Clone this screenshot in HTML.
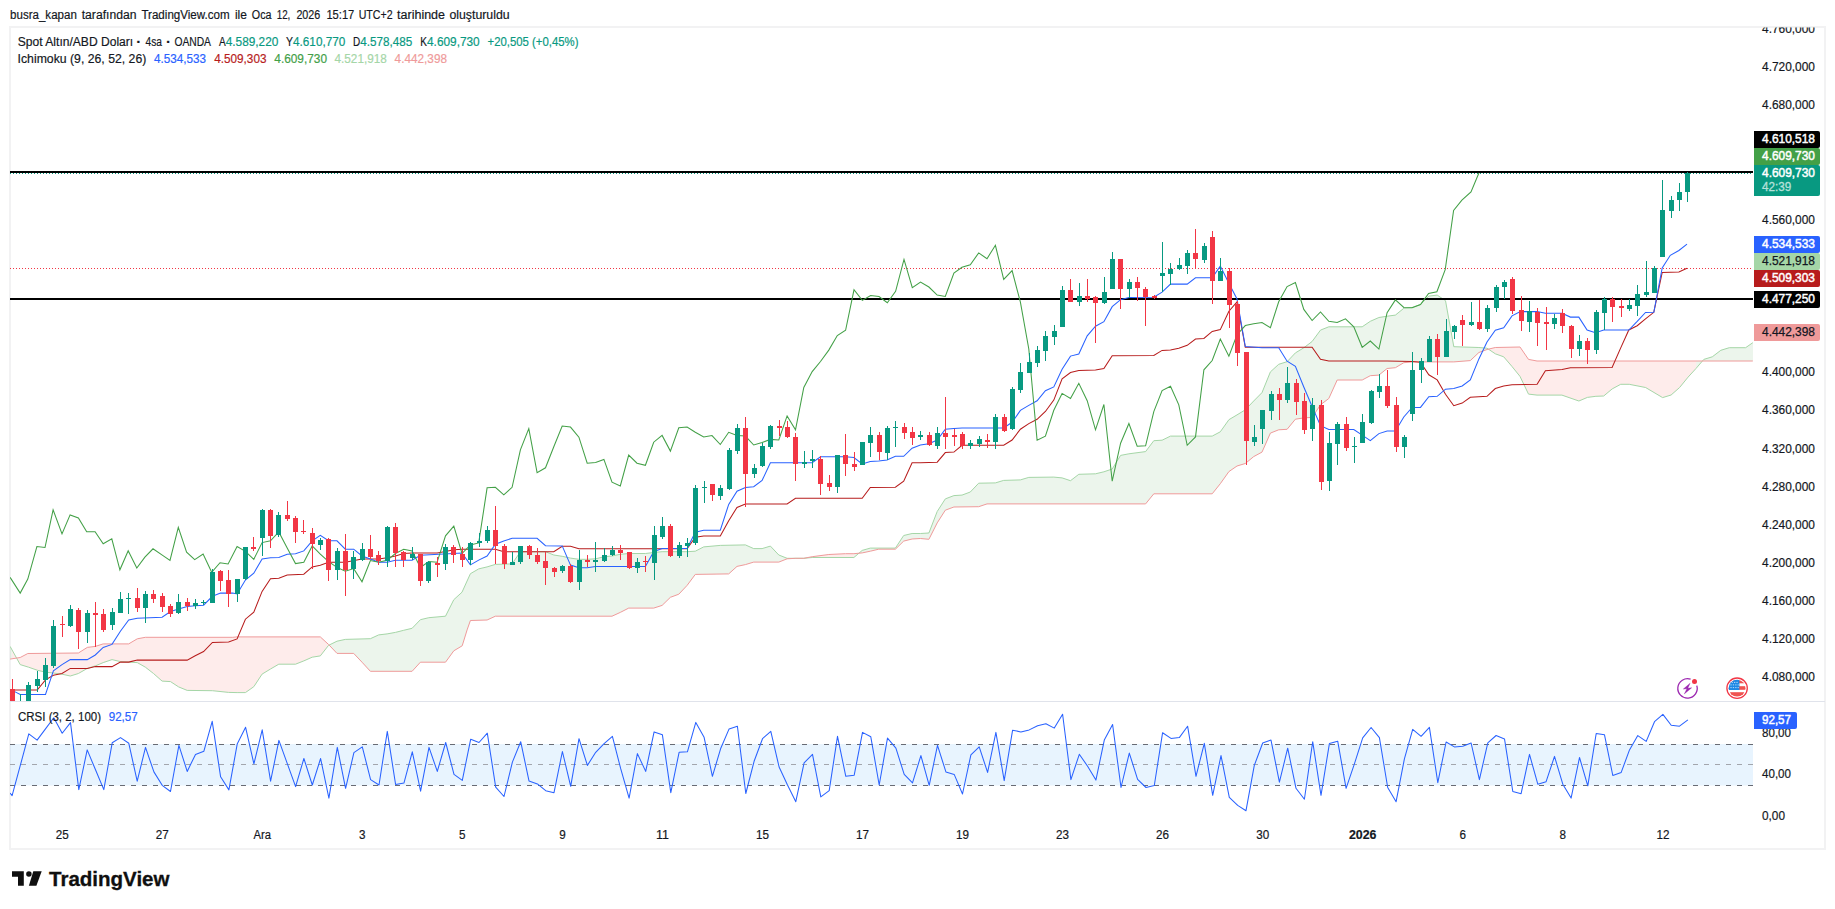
<!DOCTYPE html>
<html lang="tr"><head><meta charset="utf-8"><title>XAUUSD</title><style>html,body{margin:0;padding:0;background:#fff}body{width:1835px;height:909px;position:relative;overflow:hidden}</style></head><body>
<svg width="1835" height="909" viewBox="0 0 1835 909" font-family='"Liberation Sans", sans-serif' style="position:absolute;left:0;top:0">
<defs><clipPath id="cm"><rect x="10" y="28" width="1743" height="673"/></clipPath><clipPath id="cc"><rect x="10" y="702" width="1743" height="146"/></clipPath></defs>
<rect x="10" y="27" width="1815" height="822" fill="#fff" stroke="#f2f2f3" stroke-width="2"/>
<rect x="10" y="701" width="1815" height="1" fill="#e0e3eb"/>
<g clip-path="url(#cm)">
<polygon points="3.8,646.4 5.9,646.4 8,646.4 10,646.4 12.1,650 12.1,658.8 10,659.1 8,659.1 5.9,659.1 3.8,659.1" fill="#43a047" fill-opacity="0.1"/>
<polygon points="12.1,650 14.2,653.8 16.3,657.5 18.4,661.3 20.5,664.7 22.6,665.3 24.6,666 26.7,666.6 28.8,667.2 30.9,668 33,668.7 35.1,669.4 37.1,670.2 39.2,670.7 41.3,671.2 43.4,671.7 45.5,672.2 47.6,672.4 49.6,672.6 51.7,672.8 53.8,673 55.9,673.3 58,673.6 60.1,674 62.2,674.3 64.2,674.7 66.3,675.2 68.4,675.6 70.5,675.9 72.6,675.3 74.7,674.6 76.7,674 78.8,673.2 80.9,672 83,670.9 85.1,669.7 87.2,668.5 89.2,667.8 91.3,667.1 93.4,666.5 95.5,665.8 97.6,664.9 99.7,664.1 101.8,663.2 103.8,662.4 105.9,661.7 108,660.9 110.1,660.2 112.2,659.6 114.3,660.1 116.3,660.6 118.4,661.1 120.5,661.6 122.6,661.7 124.7,661.8 126.8,662 128.8,662.1 130.9,662.2 133,662.3 135.1,662.5 137.2,662.6 139.3,663.7 141.4,664.9 143.4,666 145.5,667.2 147.6,668.9 149.7,670.5 151.8,672.1 153.9,673.8 155.9,675.6 158,677.5 160.1,679.3 162.2,681.1 164.3,681.2 166.4,681.3 168.4,681.4 170.5,681.6 172.6,683 174.7,684.4 176.8,685.7 178.9,687 181,687.9 183,688.7 185.1,689.6 187.2,690.4 189.3,690.4 191.4,690.5 193.5,690.5 195.5,690.5 197.6,690.5 199.7,690.5 201.8,690.6 203.9,690.6 206,690.6 208,690.6 210.1,690.6 212.2,690.7 214.3,690.9 216.4,691.1 218.5,691.3 220.6,691.6 222.6,691.8 224.7,692 226.8,692.2 228.9,692.4 231,692.5 233.1,692.5 235.1,692.5 237.2,692.6 239.3,692.6 241.4,692.6 243.5,692.6 245.6,692.5 247.7,691 249.7,689.6 251.8,688.1 253.9,686.5 256,683.4 258.1,680.2 260.2,677.1 262.2,674 264.3,672.8 266.4,671.5 268.5,670.2 270.6,669 272.7,667.8 274.7,666.6 276.8,665.4 278.9,664.2 281,664.2 283.1,664.2 285.2,664.2 287.3,664.2 289.3,664.2 291.4,664.2 293.5,664.2 295.6,664.2 297.7,663.4 299.8,662.6 301.8,661.7 303.9,660.9 306,660 308.1,659 310.2,658.1 312.3,657.1 314.3,656.8 316.4,656.5 318.5,656.2 320.6,655.5 322.7,652.8 324.8,650.2 326.9,647.5 328.9,645.1 328.9,644.8 326.9,642.9 324.8,641 322.7,639.1 320.6,637.2 318.5,636.9 316.4,636.9 314.3,636.9 312.3,636.9 310.2,636.9 308.1,636.9 306,636.9 303.9,636.9 301.8,636.9 299.8,636.9 297.7,636.9 295.6,636.9 293.5,636.9 291.4,636.9 289.3,636.9 287.3,636.9 285.2,636.9 283.1,636.9 281,636.9 278.9,636.9 276.8,636.9 274.7,636.9 272.7,636.9 270.6,636.9 268.5,636.9 266.4,636.9 264.3,636.9 262.2,636.9 260.2,636.9 258.1,636.9 256,636.9 253.9,636.9 251.8,636.9 249.7,636.9 247.7,636.9 245.6,636.9 243.5,636.9 241.4,636.9 239.3,636.9 237.2,636.9 235.1,637.1 233.1,637.3 231,637.3 228.9,637.3 226.8,637.3 224.7,637.3 222.6,637.3 220.6,637.3 218.5,637.3 216.4,637.3 214.3,637.3 212.2,637.3 210.1,637.3 208,637.3 206,637.3 203.9,637.3 201.8,637.3 199.7,637.3 197.6,637.3 195.5,637.3 193.5,637.3 191.4,637.3 189.3,637.3 187.2,637.3 185.1,637.3 183,637.3 181,637.3 178.9,637.3 176.8,637.3 174.7,637.3 172.6,637.3 170.5,637.3 168.4,637.3 166.4,637.3 164.3,637.3 162.2,637.3 160.1,637.3 158,637.3 155.9,637.3 153.9,637.3 151.8,637.3 149.7,637.3 147.6,637.3 145.5,637.3 143.4,637.7 141.4,638.1 139.3,638.5 137.2,638.9 135.1,640.1 133,641.4 130.9,642.6 128.8,643.8 126.8,643.9 124.7,643.9 122.6,643.9 120.5,643.9 118.4,643.9 116.3,643.9 114.3,643.9 112.2,643.9 110.1,643.9 108,643.9 105.9,643.9 103.8,643.9 101.8,644.3 99.7,645 97.6,645.7 95.5,646.4 93.4,646.7 91.3,646.9 89.2,647.2 87.2,647.5 85.1,648.8 83,650.1 80.9,651.4 78.8,652.7 76.7,653 74.7,653 72.6,653 70.5,653.1 68.4,653.1 66.3,653.1 64.2,653.1 62.2,653.2 60.1,653.2 58,653.2 55.9,653.2 53.8,653.2 51.7,653.3 49.6,653.3 47.6,653.3 45.5,653.3 43.4,653.3 41.3,653.4 39.2,653.4 37.1,653.4 35.1,653.4 33,653.4 30.9,653.5 28.8,653.5 26.7,654.1 24.6,655.2 22.6,656.3 20.5,657.4 18.4,657.8 16.3,658.1 14.2,658.4 12.1,658.8" fill="#f44336" fill-opacity="0.1"/>
<polygon points="328.9,645.1 331,644.1 333.1,643.1 335.2,642.1 337.3,641.2 339.4,640.7 341.4,640.3 343.5,639.8 345.6,639.4 347.7,639.4 349.8,639.3 351.9,639.3 353.9,639.2 356,639.1 358.1,639.1 360.2,639 362.3,638.9 364.4,638.9 366.5,638.8 368.5,638.7 370.6,638.6 372.7,637.6 374.8,636.7 376.9,635.7 379,634.9 381,634.6 383.1,634.4 385.2,634.1 387.3,633.8 389.4,633.5 391.5,633.1 393.5,632.7 395.6,632.3 397.7,631.8 399.8,631.3 401.9,630.8 404,630.3 406.1,629.8 408.1,629.3 410.2,628.8 412.3,628.1 414.4,626 416.5,623.8 418.6,621.7 420.6,619.7 422.7,619.2 424.8,618.7 426.9,618.2 429,617.7 431.1,617.5 433.1,617.3 435.2,617.1 437.3,616.9 439.4,616.7 441.5,616.5 443.6,616.4 445.7,615.8 447.7,611.7 449.8,607.6 451.9,603.5 454,599.6 456.1,597.7 458.2,595.8 460.2,593.8 462.3,591.5 464.4,586.9 466.5,582.3 468.6,577.7 470.7,573.6 472.7,572.4 474.8,571.2 476.9,570 479,568.9 481.1,568.4 483.2,567.9 485.3,567.4 487.3,566.8 489.4,566.2 491.5,565.6 493.6,564.9 495.7,564.4 497.8,564.3 499.8,564.3 501.9,564.2 504,564.1 506.1,564.1 508.2,564 510.3,563.9 512.4,563.5 514.4,560.5 516.5,557.5 518.6,554.4 520.7,551.7 522.8,551.7 524.9,551.7 526.9,551.7 529,551.7 531.1,551.7 533.2,551.7 535.3,551.7 537.4,551.7 539.4,551.7 541.5,551.7 543.6,551.7 545.7,551.8 547.8,552.7 549.9,553.5 552,554.3 554,555.1 556.1,555.4 558.2,555.7 560.3,556 562.4,556.3 564.5,556.8 566.5,557.2 568.6,557.7 570.7,558.1 572.8,558.4 574.9,558.7 577,559 579,559.3 581.1,559.3 583.2,559.3 585.3,559.3 587.4,559.3 589.5,559.2 591.6,559.1 593.6,558.9 595.7,558.8 597.8,558.3 599.9,557.8 602,557.3 604.1,556.8 606.1,556.6 608.2,556.4 610.3,556.2 612.4,556 614.5,555.5 616.6,555.1 618.6,554.6 620.7,554.2 622.8,554 624.9,553.9 627,553.7 629.1,553.5 631.2,553.5 633.2,553.5 635.3,553.5 637.4,553.5 639.5,553.5 641.6,553.5 643.7,553.5 645.7,553.5 647.8,553.2 649.9,553 652,552.7 654.1,552.5 656.2,552.3 658.2,552.1 660.3,551.9 662.4,551.7 664.5,551.7 666.6,551.7 668.7,551.7 670.8,551.7 672.8,551.7 674.9,551.7 677,551.7 679.1,551.7 681.2,551.7 683.3,551.7 685.3,551.7 687.4,551.7 689.5,551.6 691.6,551.4 693.7,551.3 695.8,550.9 697.8,549.9 699.9,548.8 702,547.7 704.1,546.8 706.2,546.6 708.3,546.5 710.4,546.3 712.4,546.1 714.5,545.9 716.6,545.7 718.7,545.5 720.8,545.4 722.9,545.3 724.9,545.3 727,545.2 729.1,545.2 731.2,545.1 733.3,545.1 735.4,545.1 737.4,545 739.5,545 741.6,544.9 743.7,544.9 745.8,545 747.9,546 750,546.9 752,547.9 754.1,548.6 756.2,548.6 758.3,548.6 760.4,548.6 762.5,548.5 764.5,547.9 766.6,547.3 768.7,546.6 770.8,546.5 772.9,548.7 775,550.9 777,553.1 779.1,555.1 781.2,555.9 783.3,556.8 785.4,557.6 787.5,558.3 789.6,558.3 791.6,558.3 793.7,558.3 795.8,558.3 797.9,558.3 800,558.3 802.1,558.3 804.1,558.2 804.1,558.2 802.1,558.3 800,558.3 797.9,558.3 795.8,558.3 793.7,558.4 791.6,558.5 789.6,558.6 787.5,558.7 785.4,559.4 783.3,560.3 781.2,561.1 779.1,561.9 777,562.1 775,562.1 772.9,562.1 770.8,562.1 768.7,562.1 766.6,562.1 764.5,562.1 762.5,562.1 760.4,562.1 758.3,562.1 756.2,562.1 754.1,562.1 752,562.6 750,563.2 747.9,563.8 745.8,564.5 743.7,564.9 741.6,565.4 739.5,565.8 737.4,566.3 735.4,567.9 733.3,569.8 731.2,571.7 729.1,573.6 727,574 724.9,574 722.9,574 720.8,574.1 718.7,574.1 716.6,574.1 714.5,574.2 712.4,574.2 710.4,574.2 708.3,574.2 706.2,574.3 704.1,574.3 702,574.3 699.9,574.4 697.8,574.4 695.8,574.4 693.7,576.6 691.6,579.4 689.5,582.2 687.4,585 685.3,587.3 683.3,589.5 681.2,591.7 679.1,593.9 677,594.9 674.9,595.6 672.8,596.4 670.8,597.1 668.7,599 666.6,601 664.5,603 662.4,605 660.3,605.9 658.2,606.6 656.2,607.3 654.1,608 652,608.1 649.9,608.1 647.8,608.1 645.7,608.1 643.7,608.1 641.6,608.1 639.5,608.1 637.4,608.1 635.3,608.1 633.2,608.1 631.2,608.1 629.1,608.1 627,609 624.9,610.1 622.8,611.2 620.7,612.2 618.6,613.2 616.6,614.2 614.5,615.1 612.4,616.1 610.3,616.2 608.2,616.2 606.1,616.2 604.1,616.2 602,616.2 599.9,616.2 597.8,616.2 595.7,616.2 593.6,616.2 591.6,616.2 589.5,616.2 587.4,616.2 585.3,616.2 583.2,616.2 581.1,616.2 579,616.2 577,616.2 574.9,616.2 572.8,616.2 570.7,616.2 568.6,616.2 566.5,616.2 564.5,616.2 562.4,616.2 560.3,616.2 558.2,616.2 556.1,616.2 554,616.2 552,616.2 549.9,616.2 547.8,616.2 545.7,616.2 543.6,616.2 541.5,616.2 539.4,616.2 537.4,616.2 535.3,616.2 533.2,616.2 531.1,616.2 529,616.2 526.9,616.2 524.9,616.2 522.8,616.2 520.7,616.2 518.6,616.2 516.5,616.2 514.4,616.2 512.4,616.2 510.3,616.2 508.2,616.2 506.1,616.2 504,616.2 501.9,616.2 499.8,616.2 497.8,616.2 495.7,616.2 493.6,617.1 491.5,618 489.4,619 487.3,619.9 485.3,620.1 483.2,620.1 481.1,620.2 479,620.3 476.9,620.3 474.8,620.4 472.7,620.5 470.7,620.5 468.6,625.6 466.5,631.8 464.4,638.5 462.3,645.3 460.2,646.9 458.2,648.2 456.1,649.5 454,650.7 451.9,653.4 449.8,656.3 447.7,659.1 445.7,662 443.6,662.2 441.5,662.2 439.4,662.2 437.3,662.2 435.2,662.2 433.1,662.2 431.1,662.2 429,662.2 426.9,662.2 424.8,662.2 422.7,662.2 420.6,662.2 418.6,664.3 416.5,666.5 414.4,668.8 412.3,671.1 410.2,671.3 408.1,671.3 406.1,671.3 404,671.3 401.9,671.3 399.8,671.3 397.7,671.3 395.6,671.3 393.5,671.3 391.5,671.3 389.4,671.3 387.3,671.3 385.2,671.3 383.1,671.3 381,671.3 379,671.3 376.9,671.3 374.8,671.3 372.7,671.3 370.6,671.3 368.5,669.3 366.5,667 364.4,664.8 362.3,662.5 360.2,660.3 358.1,658.1 356,655.9 353.9,653.7 351.9,653.4 349.8,653.4 347.7,653.4 345.6,653.4 343.5,653.4 341.4,653.4 339.4,653.4 337.3,653.4 335.2,651.5 333.1,649.2 331,647 328.9,644.8" fill="#43a047" fill-opacity="0.1"/>
<polygon points="804.1,558.2 806.2,558 808.3,557.9 810.4,557.7 812.5,557.5 814.6,557.5 816.7,557.5 818.7,557.5 820.8,557.5 822.9,557.5 825,557.5 827.1,557.5 829.2,557.5 831.2,557.5 833.3,557.5 835.4,557.5 837.5,557.5 839.6,557.5 841.7,557.5 843.7,557.5 845.8,557.5 847.9,557.5 850,557.5 852.1,557.5 854.2,557.3 854.2,553.7 852.1,553.7 850,553.7 847.9,553.7 845.8,553.7 843.7,553.8 841.7,553.9 839.6,554 837.5,554.1 835.4,554.2 833.3,554.3 831.2,554.4 829.2,554.5 827.1,554.7 825,555 822.9,555.3 820.8,555.6 818.7,555.8 816.7,556.1 814.6,556.4 812.5,556.7 810.4,557.1 808.3,557.4 806.2,557.8 804.1,558.2" fill="#f44336" fill-opacity="0.1"/>
<polygon points="854.2,557.3 856.3,555.5 858.3,553.7 860.4,552 862.5,550.3 864.6,549.8 866.7,549.2 868.8,548.6 870.8,548.1 872.9,548.1 875,548.1 877.1,548.1 879.2,548.1 881.3,548.1 883.3,548.1 885.4,548.1 887.5,548.1 889.6,548.1 891.7,548.1 893.8,548.1 895.9,547.4 897.9,544.2 900,541.1 902.1,537.9 904.2,535.4 906.3,534.9 908.4,534.4 910.4,533.9 912.5,533.5 914.6,533.5 916.7,533.5 918.8,533.5 920.9,533.4 922.9,533.3 925,533.2 927.1,533.1 929.2,532.1 931.3,526.7 933.4,521.4 935.5,516 937.5,511 939.6,507.7 941.7,504.5 943.8,501.2 945.9,498.6 948,497.8 950,497.1 952.1,496.3 954.2,495.6 956.3,495.4 958.4,495.3 960.5,495.2 962.5,494.9 964.6,494.1 966.7,493.4 968.8,492.6 970.9,491.4 973,489.2 975.1,487 977.1,484.8 979.2,483.2 981.3,483.1 983.4,483.1 985.5,483.1 987.6,483.1 989.6,483 991.7,483 993.8,483 995.9,482.8 998,482.1 1000.1,481.5 1002.1,480.9 1004.2,480.4 1006.3,480.3 1008.4,480.3 1010.5,480.2 1012.6,480.1 1014.7,480.1 1016.7,480 1018.8,479.9 1020.9,479.7 1023,479.1 1025.1,478.5 1027.2,477.9 1029.2,477.4 1031.3,477.3 1033.4,477.3 1035.5,477.3 1037.6,477.3 1039.7,477.3 1041.7,477.2 1043.8,477.2 1045.9,477.2 1048,477.2 1050.1,477.2 1052.2,477.1 1054.3,477.2 1056.3,477.3 1058.4,477.5 1060.5,477.7 1062.6,478 1064.7,478.7 1066.8,479.4 1068.8,480.1 1070.9,480.3 1073,478.7 1075.1,477.2 1077.2,475.6 1079.3,474.3 1081.4,474.3 1083.4,474.2 1085.5,474.1 1087.6,474.1 1089.7,474 1091.8,473.9 1093.9,473.9 1095.9,473.7 1098,473.2 1100.1,472.7 1102.2,472.2 1104.3,471.7 1106.4,471 1108.4,470.3 1110.5,469.6 1112.6,468.4 1114.7,465 1116.8,461.5 1118.9,458.1 1121,455.3 1123,454.9 1125.1,454.5 1127.2,454.2 1129.3,453.8 1131.4,453.5 1133.5,453.2 1135.5,452.9 1137.6,452.7 1139.7,452.4 1141.8,452.1 1143.9,451.8 1146,451.1 1148,448.3 1150.1,445.6 1152.2,442.8 1154.3,440.7 1156.4,440.5 1158.5,440.4 1160.6,440.3 1162.6,440 1164.7,438.9 1166.8,437.9 1168.9,436.9 1171,436.1 1173.1,436.1 1175.1,436.1 1177.2,436.1 1179.3,436.1 1181.4,436.1 1183.5,436.1 1185.6,436.1 1187.6,436.1 1189.7,436.1 1191.8,436.1 1193.9,436.1 1196,436.1 1198.1,436.1 1200.2,436.1 1202.2,436.1 1204.3,436.1 1206.4,436.1 1208.5,436.1 1210.6,436.1 1212.7,435.9 1214.7,434.8 1216.8,433.7 1218.9,432.6 1221,430.9 1223.1,427.9 1225.2,425 1227.2,422 1229.3,419.5 1231.4,418.2 1233.5,417 1235.6,415.7 1237.7,414.5 1239.8,413.2 1241.8,412 1243.9,410.7 1246,409.1 1248.1,406.9 1250.2,404.7 1252.3,402.5 1254.3,400.3 1256.4,398.3 1258.5,396.2 1260.6,394.1 1262.7,391 1264.8,385.9 1266.8,380.7 1268.9,375.5 1271,371.3 1273.1,369.4 1275.2,367.5 1277.3,365.6 1279.4,364.1 1281.4,363.5 1283.5,362.8 1285.6,362.2 1287.7,361.1 1289.8,358.9 1291.9,356.7 1293.9,354.5 1296,352.5 1298.1,351.3 1300.2,350 1302.3,348.7 1304.4,347.4 1306.4,345.8 1308.5,344.2 1310.6,342.6 1312.7,340.7 1314.8,337.9 1316.9,335 1319,332.2 1321,329.9 1323.1,329.1 1325.2,328.3 1327.3,327.4 1329.4,326.8 1331.5,326.8 1333.5,326.8 1335.6,326.8 1337.7,326.8 1339.8,326.8 1341.9,326.8 1344,326.8 1346.1,326.8 1348.1,326.8 1350.2,326.8 1352.3,326.8 1354.4,326.8 1356.5,326.8 1358.6,326.8 1360.6,326.8 1362.7,326.5 1364.8,325 1366.9,323.6 1369,322.2 1371.1,320.9 1373.1,320 1375.2,319.1 1377.3,318.2 1379.4,317.4 1381.5,317.1 1383.6,316.8 1385.7,316.5 1387.7,316.2 1389.8,315.9 1391.9,315.6 1394,315.3 1396.1,314.6 1398.2,312.9 1400.2,311.2 1402.3,309.5 1404.4,308.2 1406.5,308 1408.6,307.8 1410.7,307.7 1412.7,307.3 1414.8,306.5 1416.9,305.8 1419,305 1421.1,303.9 1423.2,301.8 1425.3,299.7 1427.3,297.6 1429.4,296.1 1431.5,295.8 1433.6,295.6 1435.7,295.3 1437.8,295.5 1439.8,296.9 1441.9,298.3 1444,299.7 1446.1,304 1448.2,315.5 1450.3,326.9 1452.3,338.4 1454.4,346.7 1456.5,346.8 1458.6,346.9 1460.7,346.9 1462.8,347 1464.9,347.1 1466.9,347.1 1469,347.2 1471.1,347.3 1473.2,347.3 1475.3,347.4 1477.4,347.4 1479.4,347.5 1481.5,347.7 1483.6,347.9 1485.7,348.1 1487.8,348.8 1487.8,349.3 1485.7,350 1483.6,350.8 1481.5,351.6 1479.4,352.3 1477.4,354 1475.3,355.9 1473.2,357.9 1471.1,359.9 1469,360.7 1466.9,360.9 1464.9,361.1 1462.8,361.2 1460.7,361.4 1458.6,361.5 1456.5,361.7 1454.4,361.9 1452.3,361.9 1450.3,361.9 1448.2,361.9 1446.1,361.9 1444,361.9 1441.9,361.9 1439.8,361.9 1437.8,361.9 1435.7,361.9 1433.6,361.9 1431.5,361.9 1429.4,361.9 1427.3,361.9 1425.3,361.9 1423.2,361.9 1421.1,361.9 1419,361.9 1416.9,361.9 1414.8,361.9 1412.7,361.9 1410.7,362 1408.6,362.2 1406.5,362.4 1404.4,362.6 1402.3,363.5 1400.2,364.8 1398.2,366.1 1396.1,367.3 1394,367.8 1391.9,368 1389.8,368.2 1387.7,368.4 1385.7,369.6 1383.6,371.3 1381.5,373 1379.4,374.7 1377.3,375.2 1375.2,375.4 1373.1,375.5 1371.1,375.6 1369,376.3 1366.9,377.5 1364.8,378.6 1362.7,379.7 1360.6,380 1358.6,380 1356.5,380 1354.4,380 1352.3,380 1350.2,380 1348.1,380 1346.1,380 1344,380 1341.9,380 1339.8,380 1337.7,380 1335.6,383.3 1333.5,388 1331.5,392.6 1329.4,397.2 1327.3,399.6 1325.2,401.2 1323.1,402.8 1321,404.3 1319,407.1 1316.9,410.2 1314.8,413.4 1312.7,416.5 1310.6,417.5 1308.5,417.6 1306.4,417.8 1304.4,417.9 1302.3,418.2 1300.2,418.5 1298.1,418.8 1296,419.1 1293.9,421 1291.9,423.5 1289.8,426 1287.7,428.6 1285.6,429.4 1283.5,429.5 1281.4,429.7 1279.4,429.8 1277.3,430.4 1275.2,431.2 1273.1,432 1271,432.9 1268.9,436.4 1266.8,441.1 1264.8,445.9 1262.7,450.6 1260.6,452.9 1258.5,454 1256.4,455.1 1254.3,456.3 1252.3,457.8 1250.2,459.5 1248.1,461.2 1246,462.9 1243.9,463.9 1241.8,464.5 1239.8,465.2 1237.7,465.8 1235.6,467 1233.5,468.4 1231.4,469.8 1229.3,471.3 1227.2,473.9 1225.2,476.8 1223.1,479.8 1221,482.7 1218.9,485.4 1216.8,488 1214.7,490.7 1212.7,493.3 1210.6,493.8 1208.5,493.8 1206.4,493.8 1204.3,493.8 1202.2,493.8 1200.2,493.8 1198.1,493.8 1196,493.8 1193.9,493.8 1191.8,493.8 1189.7,493.8 1187.6,493.8 1185.6,493.8 1183.5,493.8 1181.4,493.8 1179.3,493.8 1177.2,493.8 1175.1,493.8 1173.1,493.8 1171,493.8 1168.9,493.8 1166.8,493.8 1164.7,493.8 1162.6,493.8 1160.6,493.8 1158.5,493.8 1156.4,493.8 1154.3,493.8 1152.2,495.8 1150.1,498.3 1148,500.9 1146,503.5 1143.9,503.9 1141.8,503.9 1139.7,503.9 1137.6,503.9 1135.5,503.9 1133.5,503.9 1131.4,503.9 1129.3,503.9 1127.2,503.9 1125.1,503.9 1123,503.9 1121,503.9 1118.9,503.9 1116.8,503.9 1114.7,503.9 1112.6,503.9 1110.5,503.9 1108.4,503.9 1106.4,503.9 1104.3,503.9 1102.2,503.9 1100.1,503.9 1098,503.9 1095.9,503.9 1093.9,503.9 1091.8,503.9 1089.7,503.9 1087.6,503.9 1085.5,503.9 1083.4,503.9 1081.4,503.9 1079.3,503.9 1077.2,503.9 1075.1,503.9 1073,503.9 1070.9,503.9 1068.8,503.9 1066.8,503.9 1064.7,503.9 1062.6,503.9 1060.5,503.9 1058.4,503.9 1056.3,503.9 1054.3,503.9 1052.2,503.9 1050.1,503.9 1048,503.9 1045.9,503.9 1043.8,503.9 1041.7,503.9 1039.7,503.9 1037.6,503.9 1035.5,503.9 1033.4,503.9 1031.3,503.9 1029.2,503.9 1027.2,503.9 1025.1,503.9 1023,503.9 1020.9,503.9 1018.8,503.9 1016.7,503.9 1014.7,503.9 1012.6,503.9 1010.5,503.9 1008.4,503.9 1006.3,503.9 1004.2,503.9 1002.1,503.9 1000.1,503.9 998,503.9 995.9,503.9 993.8,503.9 991.7,503.9 989.6,503.9 987.6,503.9 985.5,504.4 983.4,505.1 981.3,505.8 979.2,506.5 977.1,506.7 975.1,506.7 973,506.8 970.9,506.8 968.8,506.8 966.7,506.8 964.6,506.9 962.5,506.9 960.5,506.9 958.4,506.9 956.3,506.9 954.2,507 952.1,507.6 950,508.4 948,509.2 945.9,510 943.8,512.6 941.7,515.8 939.6,519.1 937.5,522.4 935.5,526.3 933.4,530.4 931.3,534.5 929.2,538.6 927.1,539.2 925,539 922.9,538.8 920.9,538.6 918.8,538.6 916.7,538.8 914.6,538.9 912.5,539 910.4,539.4 908.4,539.9 906.3,540.4 904.2,540.9 902.1,542.6 900,544.6 897.9,546.7 895.9,548.7 893.8,549.2 891.7,549.2 889.6,549.2 887.5,549.2 885.4,549.2 883.3,549.2 881.3,549.2 879.2,549.2 877.1,549.5 875,550 872.9,550.5 870.8,551.1 868.8,551.5 866.7,552 864.6,552.4 862.5,552.9 860.4,553.1 858.3,553.3 856.3,553.5 854.2,553.7" fill="#43a047" fill-opacity="0.1"/>
<polygon points="1487.8,348.8 1489.9,350.2 1491.9,351.6 1494,352.9 1496.1,354.1 1498.2,354.9 1500.3,355.6 1502.4,356.4 1504.5,357.7 1506.5,360.1 1508.6,362.5 1510.7,364.9 1512.8,367.4 1514.9,370 1517,372.6 1519,375.2 1521.1,378.8 1523.2,383.1 1525.3,387.4 1527.4,391.8 1529.5,394.2 1531.5,394.5 1533.6,394.7 1535.7,395 1537.8,395.1 1539.9,395.1 1542,395.1 1544.1,395.1 1546.1,395.1 1548.2,395.1 1550.3,395.1 1552.4,395.1 1554.5,395.1 1556.6,395.1 1558.6,395.1 1560.7,395.1 1562.8,395.5 1564.9,396.2 1567,396.9 1569.1,397.6 1571.1,398.4 1573.2,399.1 1575.3,399.8 1577.4,400.5 1579.5,400.7 1581.6,399.8 1583.7,398.9 1585.7,398.1 1587.8,397.3 1589.9,397 1592,396.8 1594.1,396.5 1596.2,396.3 1598.2,396.2 1600.3,396.2 1602.4,396.1 1604.5,395.4 1606.6,393.6 1608.7,391.8 1610.7,390.1 1612.8,388.5 1614.9,387.4 1617,386.3 1619.1,385.1 1621.2,384.3 1623.3,384.3 1625.3,384.3 1627.4,384.3 1629.5,384.3 1631.6,384.8 1633.7,385.2 1635.8,385.6 1637.8,386 1639.9,386.4 1642,386.8 1644.1,387.3 1646.2,387.9 1648.3,389.2 1650.4,390.4 1652.4,391.6 1654.5,392.9 1656.6,394.1 1658.7,395.3 1660.8,396.6 1662.9,397.5 1664.9,396.9 1667,396.2 1669.1,395.6 1671.2,394.9 1673.3,393.1 1675.4,391.2 1677.4,389.4 1679.5,387.6 1681.6,385 1683.7,382.5 1685.8,379.9 1687.9,377.3 1690,375 1692,372.8 1694.1,370.5 1696.2,368.2 1696.2,361 1694.1,361 1692,361 1690,361 1687.9,361 1685.8,361 1683.7,361 1681.6,361 1679.5,361 1677.4,361 1675.4,361 1673.3,361 1671.2,361 1669.1,361 1667,361 1664.9,361 1662.9,361 1660.8,361 1658.7,361 1656.6,361 1654.5,361 1652.4,361 1650.4,361 1648.3,361 1646.2,361 1644.1,361 1642,361 1639.9,361 1637.8,361 1635.8,361 1633.7,361 1631.6,361 1629.5,361 1627.4,361 1625.3,361 1623.3,361 1621.2,361 1619.1,361 1617,361 1614.9,361 1612.8,361 1610.7,361 1608.7,361 1606.6,361 1604.5,361 1602.4,361 1600.3,361 1598.2,361 1596.2,361 1594.1,361 1592,361 1589.9,361 1587.8,361 1585.7,361 1583.7,361 1581.6,361 1579.5,361 1577.4,361 1575.3,361 1573.2,361 1571.1,361 1569.1,361 1567,361 1564.9,361 1562.8,361 1560.7,361 1558.6,361 1556.6,361 1554.5,361 1552.4,361 1550.3,361 1548.2,361 1546.1,361 1544.1,361 1542,361 1539.9,361 1537.8,361 1535.7,360.8 1533.6,360.4 1531.5,360 1529.5,359.6 1527.4,357.8 1525.3,354.7 1523.2,351.7 1521.1,348.6 1519,347 1517,347.1 1514.9,347.1 1512.8,347.1 1510.7,347.2 1508.6,347.2 1506.5,347.3 1504.5,347.3 1502.4,347.3 1500.3,347.4 1498.2,347.4 1496.1,347.5 1494,347.8 1491.9,348.3 1489.9,348.8 1487.8,349.3" fill="#f44336" fill-opacity="0.1"/>
<polygon points="1696.2,368.2 1698.3,365.8 1700.4,363.4 1702.5,360.9 1704.5,359.2 1706.6,358.5 1708.7,357.9 1710.8,357.3 1712.9,356.3 1715,354.7 1717,353.1 1719.1,351.5 1721.2,350.1 1723.3,349.5 1725.4,348.8 1727.5,348.2 1729.6,347.7 1731.6,347.7 1733.7,347.7 1735.8,347.7 1737.9,347.7 1740,347.7 1742.1,347.7 1744.1,347.7 1746.2,347.2 1748.3,345.8 1750.4,344.3 1752.5,342.9 1754.6,342.7 1756.6,342.7 1758.7,342.7 1760.8,342.7 1762.9,342.7 1762.9,361 1760.8,361 1758.7,361 1756.6,361 1754.6,361 1752.5,361 1750.4,361 1748.3,361 1746.2,361 1744.1,361 1742.1,361 1740,361 1737.9,361 1735.8,361 1733.7,361 1731.6,361 1729.6,361 1727.5,361 1725.4,361 1723.3,361 1721.2,361 1719.1,361 1717,361 1715,361 1712.9,361 1710.8,361 1708.7,361 1706.6,361 1704.5,361 1702.5,361 1700.4,361 1698.3,361 1696.2,361" fill="#43a047" fill-opacity="0.1"/>
<polyline points="10.1,646.4 20.2,664.6 28.6,667.2 37.2,670.2 45.5,672.2 53.4,673 62,674.2 70.3,676 78.4,673.5 87.3,668.4 95.3,665.9 103.2,662.6 112,659.6 120.4,661.6 128.7,662.1 137.3,662.6 145.4,667.2 153.5,673.5 162.1,681.1 170.5,681.6 178.6,686.9 187.2,690.4 212.4,690.7 228.6,692.4 237.1,692.6 245.4,692.6 253.8,686.7 262.1,674.1 270.5,669 278.8,664.2 295.5,664.2 303.8,660.9 312.2,657.2 320.3,655.9 328.6,645.3 337,641.2 345.3,639.4 370.4,638.7 378.7,634.9 387.1,633.9 395.4,632.4 403.7,630.3 412.1,628.3 420.4,619.7 428.8,617.7 445.5,616.2 453.8,599.7 462,592.2 470.4,573.7 478.7,568.9 487.1,566.9 495.4,564.4 512.1,563.9 520.4,551.7 545.5,551.7 553.8,555 562.2,556.3 570.5,558.1 578.9,559.3 587.2,559.3 595.6,558.8 603.9,556.8 612,556 620.3,554.3 628.7,553.5 645.4,553.5 653.7,552.5 662.1,551.7 687.1,551.7 695.3,551.2 703.7,546.9 720.3,545.4 745.4,544.9 753.7,548.6 762.1,548.6 770.4,546.1 778.8,555 787.1,558.3 803.8,558.3 812.2,557.5 853.9,557.5 862.2,550.4 870.3,548.1 895.4,548.1 903.7,535.5 912.1,533.5 920.4,533.5 928.9,533 937.2,511.5 945.3,498.9 953.9,495.6 962,495.1 970.3,492 978.7,483.2 995.4,482.9 1003.7,480.4 1020.4,479.9 1028.8,477.4 1053.8,477.1 1062.1,477.9 1070.5,480.7 1078.8,474.3 1095.5,473.8 1103.9,471.8 1112.2,469 1120.6,455.4 1128.9,453.8 1145.6,451.6 1153.8,440.7 1162.1,440.2 1170.5,436.1 1212.2,436.1 1220.3,431.8 1228.9,419.7 1237,414.9 1245.3,409.8 1253.7,401 1262,392.6 1270.4,371.9 1278.7,364.3 1287.1,361.7 1295.4,352.9 1303.8,347.8 1312.1,341.5 1320.5,330.1 1328.8,326.8 1362.2,326.8 1370.3,321.3 1378.9,317.5 1387.2,316.2 1395.4,315.1 1403.8,308.3 1412.1,307.5 1420.5,304.5 1428.8,296.1 1437.2,295.1 1445.5,300.7 1453.8,346.7 1478.9,347.5 1487,348.2 1495.3,353.8 1503.7,356.8 1512,366.5 1520,376.4 1528.5,394.1 1537,395.1 1561.9,395.1 1578.9,401 1587.4,397.4 1595.9,396.3 1603.7,396 1612.2,388.9 1620.7,384.3 1629.2,384.3 1645.6,387.5 1662.6,397.6 1671.1,395 1679.6,387.5 1688.1,377.1 1695.9,368.6 1703.8,359.4 1712.3,356.8 1720.8,350.3 1729.3,347.7 1745.6,347.7 1752.8,342.7" fill="none" stroke="#a5d6a7" stroke-width="1"/>
<polyline points="10.1,659.1 20.2,657.5 27.8,653.5 78.4,653 87.3,647.4 95.3,646.4 103.2,643.9 128.7,643.9 137.3,638.8 145.4,637.3 232.7,637.3 237.1,636.9 320.3,636.9 328.6,644.5 337,653.4 353.7,653.4 362,662.2 370.4,671.3 412.1,671.3 420.4,662.2 445.5,662.2 453.8,650.8 462.2,645.8 467.1,629.9 470.4,620.5 487.1,620 495.4,616.2 612,616.2 620.3,612.4 628.7,608.1 653.7,608.1 662.1,605.4 670.4,597.3 678.8,594.2 687.1,585.4 695.3,574.4 728.7,573.9 737,566.4 745.4,564.6 753.7,562.1 778.8,562.1 787.1,558.8 795.5,558.3 803.8,558.3 812.2,556.7 828.8,554.5 845.5,553.7 853.9,553.7 862.2,552.9 870.3,551.2 878.7,549.2 895.4,549.2 903.7,541.1 912.1,539 920.4,538.5 928.9,539.3 937.2,522.9 945.3,510.2 953.9,507 978.7,506.7 987,503.9 1145.6,503.9 1153.8,493.8 1212.2,493.8 1220.3,483.7 1228.9,471.6 1237,466 1245.3,463.5 1253.7,456.6 1262,452.1 1270.4,433.1 1278.7,429.8 1287.1,429.3 1295.4,419.2 1303.8,417.9 1312.1,417.4 1320.5,404.8 1328.8,398.5 1337.2,380 1362.2,380 1370.3,375.7 1378.9,375.1 1387.1,368.5 1395.4,367.7 1403.8,362.7 1412.1,361.9 1453.8,361.9 1470.3,360.6 1478.9,352.5 1487,349.5 1495.3,347.5 1520,347 1528.5,359.4 1537,361 1752.8,361" fill="none" stroke="#ef9a9a" stroke-width="1"/>
<rect x="10" y="171" width="1743" height="2" fill="#000"/>
<rect x="10" y="298" width="1743" height="2" fill="#000"/>
<line x1="10" y1="173.5" x2="1753" y2="173.5" stroke="#089981" stroke-width="1" stroke-dasharray="1 2"/>
<line x1="10" y1="268.5" x2="1753" y2="268.5" stroke="#f23645" stroke-width="1" stroke-dasharray="1 2"/>
<polyline points="10.1,690 37.2,690 45.5,679.8 53.4,675.2 62,673.5 70.3,668.4 87.3,668.4 95.3,666.6 112,666.6 120.4,662.1 128.7,662.1 137.3,660.1 187.2,660.1 195.2,655.8 203.6,651.5 212.4,642.4 228.6,641.9 237.1,638.9 245.4,619.2 253.8,612.1 262.1,591.4 270.5,578.8 278.8,578.2 287.2,575 303.8,574.2 312.2,566.9 320.3,565.3 328.6,562.3 345.3,562.3 362,559 378.7,559 387.1,557.8 395.4,556 403.7,553.5 412.1,553 437.1,553 445.5,551.4 453.8,549.7 462.2,549.2 470.4,549.2 495.4,549.2 503.8,551.7 553.8,551.7 562.2,546.2 570.5,546.2 578.9,548.7 687.1,548.7 695.3,537.3 703.7,536 720.3,536 728.7,520.8 737,507.4 745.4,503.9 787.1,503.9 795.5,498.3 862.2,498.3 870.3,487.4 895.4,487.2 903.7,481.1 912.1,462.7 920.4,462.7 937.2,462.2 945.3,452.6 953.9,452.1 962,445.3 1003.7,445.3 1012.1,440 1020.4,429.2 1028.8,423.6 1037.1,419.3 1045.4,411.5 1053.8,400.1 1062.1,378.8 1070.5,372.5 1078.8,370.5 1095.5,370 1103.9,368.5 1112.2,355.8 1153.8,355.4 1162.1,350.4 1170.5,349.9 1178.8,348.3 1187.2,345.3 1195.5,339 1203.9,338.5 1212.2,331.4 1220.3,329.6 1228.9,311.2 1237,301.8 1245.3,347.3 1312.1,347.3 1320.5,359.2 1328.8,361 1387.2,361 1412.1,361.4 1420.5,362.2 1428.8,374.8 1437.2,379.9 1445.5,394.3 1453.8,405.7 1462.2,403.1 1470.3,397.3 1487,396.3 1495.3,388.5 1503.7,385.9 1512,384.7 1537.1,384.2 1545.4,370.8 1562.1,369.5 1570.4,367.7 1612.1,367.4 1620.5,348.4 1628.8,330 1637.2,325.7 1645.5,318.8 1653.8,312.3 1662.2,272.5 1678.9,272 1687,268.2" fill="none" stroke="#b71c1c" stroke-width="1.05"/>
<polyline points="10.1,689.4 15.2,691.9 20.2,694.5 45.5,694.5 53.4,670.9 62,664.6 70.3,659.6 87.3,659.6 95.3,655 103.2,647.4 112,644.4 120.4,631.2 128.7,619.9 137.3,618.3 162.1,617.3 170.5,611.5 178.6,609 187.2,606.5 195.2,605.7 203.6,605.2 212.4,596.3 220.5,593.1 232.7,593.1 237.1,593.9 245.4,580 253.8,573.2 262.1,559 270.5,557.8 278.8,557.5 287.2,554.2 295.5,553.7 303.8,550.9 312.2,540.8 320.3,535.3 328.6,540.8 337,540.8 345.3,549.2 353.7,549.2 362,556 370.4,559 378.7,562.3 387.1,562.3 395.4,560.3 412.1,560.3 420.4,555.2 462,553 470.4,564.9 478.7,560.1 487.1,556 495.4,544.2 503.8,540.9 512.1,538.3 537.1,538.3 545.5,545.7 562.2,545.9 570.5,565.1 578.9,567.7 587.2,567.7 595.6,566.4 645.4,566.4 653.7,551.7 662.1,548.5 687.1,548.5 695.3,532.2 703.7,530.2 720.3,530.2 728.7,504.4 737,491.2 745.4,487.4 753.7,486.7 762.1,480.4 770.4,462.7 812.2,462.7 820.5,456.8 845.5,456.8 853.9,457.6 862.2,463.9 870.3,461.4 878.7,460.9 887,460.1 895.4,456.3 903.7,456.3 912.1,448.2 920.4,445 928.9,443.8 937.2,440 945.3,429.2 953.9,428.6 962,427.9 1003.7,427.9 1012.1,422.3 1020.4,410.4 1028.8,405.4 1037.1,400.8 1045.4,390.7 1053.8,386.9 1062.1,369.2 1070.5,356.1 1078.8,354 1087.2,335.8 1095.5,326.2 1103.9,321.7 1112.2,306.7 1120.6,299.7 1128.9,297.6 1153.8,297.3 1162.1,292.2 1170.5,284.1 1187.2,284.1 1195.5,277.8 1212.2,277.8 1220.3,266.1 1228.9,283.3 1237,299 1245.3,346.6 1262,347.8 1278.7,347.8 1287.1,361.2 1295.4,366.3 1303.8,387 1312.1,406.5 1320.5,425.7 1328.8,429.5 1353.8,429.5 1362.2,435.1 1370.3,440.7 1378.9,433.6 1387.1,430.9 1395.4,430.9 1403.8,417 1412.1,407.4 1420.5,407.4 1428.8,396.8 1437.2,396.3 1445.5,389.2 1453.8,388.5 1462.2,385.9 1470.3,379.9 1478.9,358.9 1487,341.9 1495.3,330.3 1503.7,327.8 1512,315.9 1520.4,311.6 1537.1,311.6 1545.4,313.3 1562.1,313.3 1570.4,317.1 1578.8,317.1 1587.1,330 1595.4,332.7 1603.8,330 1628.8,330 1637.2,321.4 1645.5,312.5 1653.8,312.3 1662.2,268 1670.3,255.3 1678.9,250.5 1687,244.2" fill="none" stroke="#2962ff" stroke-width="1.05"/>
<polyline points="10.1,577.4 20.2,593.1 27.8,579.1 36.9,546.5 45,547.5 53.1,509.8 62,533.9 70.1,514.9 78.4,517.9 86.7,531.8 95.1,531.8 103.2,543.7 111.8,538.9 119.9,569.8 128.2,550.8 136.8,568 144.9,557.1 153,548.8 161.9,554.9 170,560.4 178.3,527.3 186.6,552.1 194.7,559.7 203.1,554.1 211.7,572.3 220,562.7 228.1,564 237.1,546.6 245.4,551.4 253.8,559.3 262.1,542.6 270.5,540.8 278.8,532 287.2,547.9 295.5,563.6 303.8,562.3 312.2,545.9 320.3,554.2 328.6,561.6 337,567.4 345.3,571.2 353.7,568.6 362,581.8 370.4,560.5 378.7,562.3 387.1,560.3 395.4,553.5 403.7,549.2 412.1,550.9 420.4,567.4 428.8,561.6 437.1,562.3 445.5,535.8 453.8,526.1 462,553.5 470.4,544.9 478.7,542.9 487.1,487.8 495.4,487.3 503.8,494.8 512.1,487.3 520.4,449.8 528.8,428.6 537.1,472.6 545.5,467.8 553.8,446.8 562.2,426 570.5,427.1 578.9,437.2 587.2,463.2 595.6,462.5 603.9,459.4 612,482.2 620.3,486 628.7,455.1 637,463.2 645.4,465.3 653.7,442.2 662.1,435.4 670.4,451.1 678.8,427.8 687.1,427.1 695.3,432.3 703.7,436.9 712,435.6 720.3,444.5 728.7,432.3 737,435.6 745.4,436.1 753.7,445 762.1,442.4 770.4,439.4 778.8,439.9 787.1,415.9 795.5,429.8 803.8,387.5 812.2,371.6 820.5,361.5 828.8,350.1 837.3,335.6 845.6,330.3 854,289.8 862.3,300.4 870.6,295.5 879,296.5 887.3,302.7 895.6,291.3 904,259.4 912.3,287.6 920.5,282 928.9,287 937.2,295.1 945.3,296.4 953.9,273.1 962,267.3 970.3,264.8 978.7,252.9 987,258.7 995.4,245.3 1003.7,279.4 1012.1,270.6 1020.4,302.2 1028.8,349 1037.1,440.2 1045.4,436.1 1053.8,410.3 1062.1,393.4 1070.5,398.5 1078.8,383.3 1087.2,400.7 1095.5,429.8 1103.9,404.5 1112.2,481.2 1120.6,443.2 1128.9,423.5 1137.2,446.3 1145.6,445.8 1153.8,411.6 1162.1,390.6 1170.5,386.3 1178.8,404.8 1187.2,445.3 1195.5,436.9 1203.9,369.8 1212.2,360.5 1220.3,339 1228.9,356.2 1237,334.7 1245.3,325.6 1253.7,323.8 1262,322.5 1270.4,327.6 1278.7,301.8 1287.1,286.6 1295.4,282.6 1303.8,309.4 1312.1,320.5 1320.5,311.9 1328.8,321.3 1337.2,322.5 1345.5,318.8 1353.8,326.8 1362.2,347.3 1370.3,341 1378.9,349.1 1387.1,312.6 1395.4,299.9 1403.8,307.5 1412.1,307.8 1420.5,304.5 1428.6,293.5 1436.9,291.7 1445.2,269.7 1453.6,210.4 1461.9,200.2 1471,191.9 1478.9,173" fill="none" stroke="#43a047" stroke-width="1.05"/>
<g shape-rendering="crispEdges">
<rect x="12" y="679" width="1" height="22" fill="#f23645"/>
<rect x="10" y="689" width="5" height="12" fill="#f23645"/>
<rect x="20" y="694" width="1" height="14" fill="#089981"/>
<rect x="18" y="703" width="5" height="5" fill="#089981"/>
<rect x="28" y="682" width="1" height="19" fill="#089981"/>
<rect x="26" y="685" width="5" height="16" fill="#089981"/>
<rect x="37" y="671" width="1" height="21" fill="#089981"/>
<rect x="35" y="679" width="5" height="7" fill="#089981"/>
<rect x="45" y="658" width="1" height="29" fill="#089981"/>
<rect x="43" y="665" width="5" height="15" fill="#089981"/>
<rect x="53" y="620" width="1" height="48" fill="#089981"/>
<rect x="51" y="626" width="5" height="40" fill="#089981"/>
<rect x="62" y="616" width="1" height="21" fill="#f23645"/>
<rect x="60" y="624" width="5" height="1" fill="#f23645"/>
<rect x="70" y="605" width="1" height="22" fill="#089981"/>
<rect x="68" y="609" width="5" height="17" fill="#089981"/>
<rect x="78" y="608" width="1" height="41" fill="#f23645"/>
<rect x="76" y="610" width="5" height="22" fill="#f23645"/>
<rect x="87" y="610" width="1" height="33" fill="#089981"/>
<rect x="85" y="613" width="5" height="19" fill="#089981"/>
<rect x="95" y="602" width="1" height="45" fill="#f23645"/>
<rect x="93" y="613" width="5" height="2" fill="#f23645"/>
<rect x="103" y="609" width="1" height="23" fill="#f23645"/>
<rect x="101" y="614" width="5" height="16" fill="#f23645"/>
<rect x="112" y="608" width="1" height="22" fill="#089981"/>
<rect x="110" y="612" width="5" height="13" fill="#089981"/>
<rect x="120" y="592" width="1" height="21" fill="#089981"/>
<rect x="118" y="599" width="5" height="14" fill="#089981"/>
<rect x="128" y="593" width="1" height="21" fill="#089981"/>
<rect x="126" y="598" width="5" height="1" fill="#089981"/>
<rect x="137" y="588" width="1" height="24" fill="#f23645"/>
<rect x="135" y="598" width="5" height="10" fill="#f23645"/>
<rect x="145" y="591" width="1" height="32" fill="#089981"/>
<rect x="143" y="594" width="5" height="14" fill="#089981"/>
<rect x="153" y="590" width="1" height="13" fill="#f23645"/>
<rect x="151" y="594" width="5" height="5" fill="#f23645"/>
<rect x="162" y="593" width="1" height="19" fill="#f23645"/>
<rect x="160" y="596" width="5" height="11" fill="#f23645"/>
<rect x="170" y="604" width="1" height="13" fill="#f23645"/>
<rect x="168" y="606" width="5" height="8" fill="#f23645"/>
<rect x="178" y="594" width="1" height="20" fill="#089981"/>
<rect x="176" y="602" width="5" height="11" fill="#089981"/>
<rect x="187" y="598" width="1" height="13" fill="#f23645"/>
<rect x="185" y="602" width="5" height="4" fill="#f23645"/>
<rect x="195" y="599" width="1" height="10" fill="#089981"/>
<rect x="193" y="603" width="5" height="3" fill="#089981"/>
<rect x="203" y="600" width="1" height="5" fill="#089981"/>
<rect x="201" y="602" width="5" height="1" fill="#089981"/>
<rect x="212" y="569" width="1" height="34" fill="#089981"/>
<rect x="210" y="572" width="5" height="31" fill="#089981"/>
<rect x="220" y="570" width="1" height="21" fill="#f23645"/>
<rect x="218" y="571" width="5" height="10" fill="#f23645"/>
<rect x="228" y="570" width="1" height="37" fill="#f23645"/>
<rect x="226" y="580" width="5" height="14" fill="#f23645"/>
<rect x="237" y="579" width="1" height="23" fill="#089981"/>
<rect x="235" y="579" width="5" height="15" fill="#089981"/>
<rect x="245" y="547" width="1" height="33" fill="#089981"/>
<rect x="243" y="547" width="5" height="32" fill="#089981"/>
<rect x="253" y="537" width="1" height="14" fill="#f23645"/>
<rect x="251" y="547" width="5" height="2" fill="#f23645"/>
<rect x="262" y="509" width="1" height="47" fill="#089981"/>
<rect x="260" y="510" width="5" height="28" fill="#089981"/>
<rect x="270" y="509" width="1" height="39" fill="#f23645"/>
<rect x="268" y="510" width="5" height="26" fill="#f23645"/>
<rect x="278" y="512" width="1" height="25" fill="#089981"/>
<rect x="276" y="515" width="5" height="20" fill="#089981"/>
<rect x="287" y="501" width="1" height="20" fill="#f23645"/>
<rect x="285" y="515" width="5" height="4" fill="#f23645"/>
<rect x="295" y="516" width="1" height="27" fill="#f23645"/>
<rect x="293" y="518" width="5" height="14" fill="#f23645"/>
<rect x="303" y="520" width="1" height="14" fill="#f23645"/>
<rect x="301" y="531" width="5" height="1" fill="#f23645"/>
<rect x="312" y="528" width="1" height="41" fill="#f23645"/>
<rect x="310" y="533" width="5" height="11" fill="#f23645"/>
<rect x="320" y="538" width="1" height="12" fill="#089981"/>
<rect x="318" y="540" width="5" height="5" fill="#089981"/>
<rect x="328" y="538" width="1" height="43" fill="#f23645"/>
<rect x="326" y="539" width="5" height="31" fill="#f23645"/>
<rect x="337" y="548" width="1" height="32" fill="#089981"/>
<rect x="335" y="551" width="5" height="19" fill="#089981"/>
<rect x="345" y="534" width="1" height="62" fill="#f23645"/>
<rect x="343" y="551" width="5" height="19" fill="#f23645"/>
<rect x="353" y="551" width="1" height="28" fill="#089981"/>
<rect x="351" y="557" width="5" height="12" fill="#089981"/>
<rect x="362" y="543" width="1" height="18" fill="#089981"/>
<rect x="360" y="549" width="5" height="11" fill="#089981"/>
<rect x="370" y="535" width="1" height="24" fill="#f23645"/>
<rect x="368" y="549" width="5" height="8" fill="#f23645"/>
<rect x="378" y="551" width="1" height="14" fill="#f23645"/>
<rect x="376" y="555" width="5" height="6" fill="#f23645"/>
<rect x="387" y="526" width="1" height="41" fill="#089981"/>
<rect x="385" y="527" width="5" height="34" fill="#089981"/>
<rect x="395" y="523" width="1" height="44" fill="#f23645"/>
<rect x="393" y="527" width="5" height="26" fill="#f23645"/>
<rect x="403" y="551" width="1" height="16" fill="#f23645"/>
<rect x="401" y="552" width="5" height="8" fill="#f23645"/>
<rect x="412" y="547" width="1" height="13" fill="#089981"/>
<rect x="410" y="554" width="5" height="4" fill="#089981"/>
<rect x="420" y="554" width="1" height="32" fill="#f23645"/>
<rect x="418" y="554" width="5" height="27" fill="#f23645"/>
<rect x="428" y="561" width="1" height="22" fill="#089981"/>
<rect x="426" y="562" width="5" height="19" fill="#089981"/>
<rect x="437" y="557" width="1" height="20" fill="#f23645"/>
<rect x="435" y="563" width="5" height="2" fill="#f23645"/>
<rect x="445" y="544" width="1" height="26" fill="#089981"/>
<rect x="443" y="547" width="5" height="17" fill="#089981"/>
<rect x="453" y="545" width="1" height="18" fill="#f23645"/>
<rect x="451" y="547" width="5" height="8" fill="#f23645"/>
<rect x="462" y="547" width="1" height="20" fill="#f23645"/>
<rect x="460" y="554" width="5" height="6" fill="#f23645"/>
<rect x="470" y="542" width="1" height="23" fill="#089981"/>
<rect x="468" y="543" width="5" height="17" fill="#089981"/>
<rect x="479" y="533" width="1" height="14" fill="#089981"/>
<rect x="477" y="541" width="5" height="2" fill="#089981"/>
<rect x="487" y="526" width="1" height="17" fill="#089981"/>
<rect x="485" y="530" width="5" height="11" fill="#089981"/>
<rect x="495" y="506" width="1" height="58" fill="#f23645"/>
<rect x="493" y="530" width="5" height="16" fill="#f23645"/>
<rect x="504" y="544" width="1" height="25" fill="#f23645"/>
<rect x="502" y="546" width="5" height="18" fill="#f23645"/>
<rect x="512" y="552" width="1" height="12" fill="#089981"/>
<rect x="510" y="562" width="5" height="3" fill="#089981"/>
<rect x="520" y="546" width="1" height="18" fill="#089981"/>
<rect x="518" y="546" width="5" height="16" fill="#089981"/>
<rect x="529" y="545" width="1" height="14" fill="#f23645"/>
<rect x="527" y="546" width="5" height="9" fill="#f23645"/>
<rect x="537" y="548" width="1" height="16" fill="#f23645"/>
<rect x="535" y="555" width="5" height="7" fill="#f23645"/>
<rect x="545" y="552" width="1" height="33" fill="#f23645"/>
<rect x="543" y="561" width="5" height="7" fill="#f23645"/>
<rect x="554" y="567" width="1" height="10" fill="#f23645"/>
<rect x="552" y="568" width="5" height="4" fill="#f23645"/>
<rect x="562" y="565" width="1" height="8" fill="#089981"/>
<rect x="560" y="566" width="5" height="5" fill="#089981"/>
<rect x="570" y="564" width="1" height="19" fill="#f23645"/>
<rect x="568" y="566" width="5" height="16" fill="#f23645"/>
<rect x="579" y="550" width="1" height="40" fill="#089981"/>
<rect x="577" y="560" width="5" height="22" fill="#089981"/>
<rect x="587" y="555" width="1" height="12" fill="#f23645"/>
<rect x="585" y="560" width="5" height="2" fill="#f23645"/>
<rect x="595" y="542" width="1" height="30" fill="#089981"/>
<rect x="593" y="560" width="5" height="2" fill="#089981"/>
<rect x="604" y="548" width="1" height="14" fill="#089981"/>
<rect x="602" y="555" width="5" height="6" fill="#089981"/>
<rect x="612" y="546" width="1" height="10" fill="#089981"/>
<rect x="610" y="550" width="5" height="5" fill="#089981"/>
<rect x="620" y="545" width="1" height="15" fill="#f23645"/>
<rect x="618" y="550" width="5" height="3" fill="#f23645"/>
<rect x="629" y="552" width="1" height="17" fill="#f23645"/>
<rect x="627" y="552" width="5" height="16" fill="#f23645"/>
<rect x="637" y="558" width="1" height="15" fill="#089981"/>
<rect x="635" y="562" width="5" height="6" fill="#089981"/>
<rect x="645" y="556" width="1" height="16" fill="#f23645"/>
<rect x="643" y="561" width="5" height="1" fill="#f23645"/>
<rect x="654" y="526" width="1" height="54" fill="#089981"/>
<rect x="652" y="535" width="5" height="28" fill="#089981"/>
<rect x="662" y="517" width="1" height="22" fill="#089981"/>
<rect x="660" y="526" width="5" height="11" fill="#089981"/>
<rect x="670" y="524" width="1" height="33" fill="#f23645"/>
<rect x="668" y="526" width="5" height="30" fill="#f23645"/>
<rect x="679" y="542" width="1" height="16" fill="#089981"/>
<rect x="677" y="545" width="5" height="11" fill="#089981"/>
<rect x="687" y="538" width="1" height="19" fill="#089981"/>
<rect x="685" y="543" width="5" height="3" fill="#089981"/>
<rect x="695" y="485" width="1" height="60" fill="#089981"/>
<rect x="693" y="488" width="5" height="55" fill="#089981"/>
<rect x="704" y="481" width="1" height="22" fill="#089981"/>
<rect x="702" y="487" width="5" height="1" fill="#089981"/>
<rect x="712" y="484" width="1" height="17" fill="#f23645"/>
<rect x="710" y="484" width="5" height="11" fill="#f23645"/>
<rect x="720" y="485" width="1" height="15" fill="#089981"/>
<rect x="718" y="488" width="5" height="8" fill="#089981"/>
<rect x="729" y="448" width="1" height="42" fill="#089981"/>
<rect x="727" y="450" width="5" height="39" fill="#089981"/>
<rect x="737" y="424" width="1" height="30" fill="#089981"/>
<rect x="735" y="428" width="5" height="23" fill="#089981"/>
<rect x="745" y="417" width="1" height="90" fill="#f23645"/>
<rect x="743" y="428" width="5" height="46" fill="#f23645"/>
<rect x="754" y="464" width="1" height="14" fill="#089981"/>
<rect x="752" y="468" width="5" height="6" fill="#089981"/>
<rect x="762" y="443" width="1" height="24" fill="#089981"/>
<rect x="760" y="446" width="5" height="20" fill="#089981"/>
<rect x="770" y="425" width="1" height="24" fill="#089981"/>
<rect x="768" y="426" width="5" height="21" fill="#089981"/>
<rect x="779" y="420" width="1" height="16" fill="#f23645"/>
<rect x="777" y="426" width="5" height="2" fill="#f23645"/>
<rect x="787" y="421" width="1" height="17" fill="#f23645"/>
<rect x="785" y="427" width="5" height="10" fill="#f23645"/>
<rect x="795" y="433" width="1" height="48" fill="#f23645"/>
<rect x="793" y="437" width="5" height="27" fill="#f23645"/>
<rect x="804" y="451" width="1" height="17" fill="#089981"/>
<rect x="802" y="462" width="5" height="2" fill="#089981"/>
<rect x="812" y="450" width="1" height="18" fill="#089981"/>
<rect x="810" y="459" width="5" height="2" fill="#089981"/>
<rect x="820" y="456" width="1" height="39" fill="#f23645"/>
<rect x="818" y="459" width="5" height="25" fill="#f23645"/>
<rect x="829" y="475" width="1" height="16" fill="#f23645"/>
<rect x="827" y="483" width="5" height="4" fill="#f23645"/>
<rect x="837" y="455" width="1" height="38" fill="#089981"/>
<rect x="835" y="455" width="5" height="32" fill="#089981"/>
<rect x="845" y="434" width="1" height="42" fill="#f23645"/>
<rect x="843" y="455" width="5" height="9" fill="#f23645"/>
<rect x="854" y="452" width="1" height="19" fill="#f23645"/>
<rect x="852" y="464" width="5" height="3" fill="#f23645"/>
<rect x="862" y="442" width="1" height="23" fill="#089981"/>
<rect x="860" y="442" width="5" height="23" fill="#089981"/>
<rect x="870" y="427" width="1" height="30" fill="#089981"/>
<rect x="868" y="435" width="5" height="8" fill="#089981"/>
<rect x="879" y="432" width="1" height="28" fill="#f23645"/>
<rect x="877" y="435" width="5" height="17" fill="#f23645"/>
<rect x="887" y="426" width="1" height="34" fill="#089981"/>
<rect x="885" y="428" width="5" height="25" fill="#089981"/>
<rect x="895" y="421" width="1" height="26" fill="#089981"/>
<rect x="893" y="427" width="5" height="1" fill="#089981"/>
<rect x="904" y="423" width="1" height="16" fill="#f23645"/>
<rect x="902" y="427" width="5" height="6" fill="#f23645"/>
<rect x="912" y="427" width="1" height="18" fill="#f23645"/>
<rect x="910" y="432" width="5" height="6" fill="#f23645"/>
<rect x="920" y="431" width="1" height="9" fill="#089981"/>
<rect x="918" y="435" width="5" height="2" fill="#089981"/>
<rect x="929" y="432" width="1" height="14" fill="#f23645"/>
<rect x="927" y="435" width="5" height="10" fill="#f23645"/>
<rect x="937" y="427" width="1" height="22" fill="#089981"/>
<rect x="935" y="433" width="5" height="13" fill="#089981"/>
<rect x="945" y="397" width="1" height="52" fill="#f23645"/>
<rect x="943" y="433" width="5" height="4" fill="#f23645"/>
<rect x="954" y="429" width="1" height="17" fill="#f23645"/>
<rect x="952" y="435" width="5" height="2" fill="#f23645"/>
<rect x="962" y="432" width="1" height="17" fill="#f23645"/>
<rect x="960" y="434" width="5" height="12" fill="#f23645"/>
<rect x="970" y="440" width="1" height="9" fill="#089981"/>
<rect x="968" y="443" width="5" height="3" fill="#089981"/>
<rect x="979" y="436" width="1" height="11" fill="#089981"/>
<rect x="977" y="439" width="5" height="5" fill="#089981"/>
<rect x="987" y="434" width="1" height="14" fill="#f23645"/>
<rect x="985" y="440" width="5" height="2" fill="#f23645"/>
<rect x="995" y="414" width="1" height="35" fill="#089981"/>
<rect x="993" y="417" width="5" height="25" fill="#089981"/>
<rect x="1004" y="414" width="1" height="18" fill="#f23645"/>
<rect x="1002" y="417" width="5" height="14" fill="#f23645"/>
<rect x="1012" y="387" width="1" height="43" fill="#089981"/>
<rect x="1010" y="389" width="5" height="40" fill="#089981"/>
<rect x="1020" y="363" width="1" height="30" fill="#089981"/>
<rect x="1018" y="372" width="5" height="18" fill="#089981"/>
<rect x="1029" y="353" width="1" height="20" fill="#089981"/>
<rect x="1027" y="362" width="5" height="11" fill="#089981"/>
<rect x="1037" y="346" width="1" height="21" fill="#089981"/>
<rect x="1035" y="350" width="5" height="13" fill="#089981"/>
<rect x="1045" y="331" width="1" height="30" fill="#089981"/>
<rect x="1043" y="336" width="5" height="15" fill="#089981"/>
<rect x="1054" y="325" width="1" height="20" fill="#089981"/>
<rect x="1052" y="331" width="5" height="6" fill="#089981"/>
<rect x="1062" y="286" width="1" height="41" fill="#089981"/>
<rect x="1060" y="290" width="5" height="37" fill="#089981"/>
<rect x="1070" y="279" width="1" height="23" fill="#f23645"/>
<rect x="1068" y="290" width="5" height="12" fill="#f23645"/>
<rect x="1079" y="283" width="1" height="23" fill="#089981"/>
<rect x="1077" y="296" width="5" height="6" fill="#089981"/>
<rect x="1087" y="279" width="1" height="23" fill="#f23645"/>
<rect x="1085" y="296" width="5" height="3" fill="#f23645"/>
<rect x="1095" y="296" width="1" height="47" fill="#f23645"/>
<rect x="1093" y="297" width="5" height="6" fill="#f23645"/>
<rect x="1104" y="277" width="1" height="27" fill="#089981"/>
<rect x="1102" y="292" width="5" height="11" fill="#089981"/>
<rect x="1112" y="252" width="1" height="37" fill="#089981"/>
<rect x="1110" y="259" width="5" height="30" fill="#089981"/>
<rect x="1120" y="259" width="1" height="50" fill="#f23645"/>
<rect x="1118" y="259" width="5" height="30" fill="#f23645"/>
<rect x="1129" y="279" width="1" height="19" fill="#089981"/>
<rect x="1127" y="282" width="5" height="7" fill="#089981"/>
<rect x="1137" y="277" width="1" height="24" fill="#f23645"/>
<rect x="1135" y="282" width="5" height="6" fill="#f23645"/>
<rect x="1145" y="287" width="1" height="39" fill="#f23645"/>
<rect x="1143" y="289" width="5" height="8" fill="#f23645"/>
<rect x="1154" y="295" width="1" height="4" fill="#f23645"/>
<rect x="1152" y="296" width="5" height="2" fill="#f23645"/>
<rect x="1162" y="242" width="1" height="50" fill="#089981"/>
<rect x="1160" y="273" width="5" height="3" fill="#089981"/>
<rect x="1170" y="263" width="1" height="22" fill="#089981"/>
<rect x="1168" y="269" width="5" height="5" fill="#089981"/>
<rect x="1179" y="258" width="1" height="12" fill="#089981"/>
<rect x="1177" y="265" width="5" height="4" fill="#089981"/>
<rect x="1187" y="250" width="1" height="24" fill="#089981"/>
<rect x="1185" y="253" width="5" height="13" fill="#089981"/>
<rect x="1195" y="229" width="1" height="39" fill="#f23645"/>
<rect x="1193" y="253" width="5" height="6" fill="#f23645"/>
<rect x="1204" y="243" width="1" height="20" fill="#089981"/>
<rect x="1202" y="246" width="5" height="14" fill="#089981"/>
<rect x="1212" y="231" width="1" height="73" fill="#f23645"/>
<rect x="1210" y="237" width="5" height="44" fill="#f23645"/>
<rect x="1220" y="258" width="1" height="23" fill="#089981"/>
<rect x="1218" y="271" width="5" height="10" fill="#089981"/>
<rect x="1229" y="268" width="1" height="60" fill="#f23645"/>
<rect x="1227" y="271" width="5" height="34" fill="#f23645"/>
<rect x="1237" y="301" width="1" height="65" fill="#f23645"/>
<rect x="1235" y="304" width="5" height="49" fill="#f23645"/>
<rect x="1246" y="352" width="1" height="113" fill="#f23645"/>
<rect x="1244" y="352" width="5" height="89" fill="#f23645"/>
<rect x="1254" y="425" width="1" height="21" fill="#089981"/>
<rect x="1252" y="437" width="5" height="5" fill="#089981"/>
<rect x="1262" y="410" width="1" height="34" fill="#089981"/>
<rect x="1260" y="410" width="5" height="19" fill="#089981"/>
<rect x="1271" y="391" width="1" height="29" fill="#089981"/>
<rect x="1269" y="394" width="5" height="17" fill="#089981"/>
<rect x="1279" y="388" width="1" height="32" fill="#f23645"/>
<rect x="1277" y="394" width="5" height="6" fill="#f23645"/>
<rect x="1287" y="367" width="1" height="36" fill="#089981"/>
<rect x="1285" y="383" width="5" height="17" fill="#089981"/>
<rect x="1296" y="379" width="1" height="36" fill="#f23645"/>
<rect x="1294" y="383" width="5" height="19" fill="#f23645"/>
<rect x="1304" y="393" width="1" height="41" fill="#f23645"/>
<rect x="1302" y="401" width="5" height="29" fill="#f23645"/>
<rect x="1312" y="398" width="1" height="43" fill="#089981"/>
<rect x="1310" y="405" width="5" height="24" fill="#089981"/>
<rect x="1321" y="400" width="1" height="90" fill="#f23645"/>
<rect x="1319" y="405" width="5" height="77" fill="#f23645"/>
<rect x="1329" y="432" width="1" height="59" fill="#089981"/>
<rect x="1327" y="443" width="5" height="38" fill="#089981"/>
<rect x="1337" y="422" width="1" height="43" fill="#089981"/>
<rect x="1335" y="424" width="5" height="20" fill="#089981"/>
<rect x="1346" y="417" width="1" height="34" fill="#f23645"/>
<rect x="1344" y="424" width="5" height="24" fill="#f23645"/>
<rect x="1354" y="437" width="1" height="26" fill="#089981"/>
<rect x="1352" y="446" width="5" height="1" fill="#089981"/>
<rect x="1362" y="414" width="1" height="29" fill="#089981"/>
<rect x="1360" y="422" width="5" height="21" fill="#089981"/>
<rect x="1371" y="390" width="1" height="34" fill="#089981"/>
<rect x="1369" y="391" width="5" height="32" fill="#089981"/>
<rect x="1379" y="374" width="1" height="24" fill="#089981"/>
<rect x="1377" y="386" width="5" height="6" fill="#089981"/>
<rect x="1387" y="370" width="1" height="38" fill="#f23645"/>
<rect x="1385" y="386" width="5" height="20" fill="#f23645"/>
<rect x="1396" y="397" width="1" height="55" fill="#f23645"/>
<rect x="1394" y="405" width="5" height="42" fill="#f23645"/>
<rect x="1404" y="435" width="1" height="23" fill="#089981"/>
<rect x="1402" y="437" width="5" height="10" fill="#089981"/>
<rect x="1412" y="352" width="1" height="69" fill="#089981"/>
<rect x="1410" y="370" width="5" height="44" fill="#089981"/>
<rect x="1421" y="358" width="1" height="25" fill="#089981"/>
<rect x="1419" y="361" width="5" height="9" fill="#089981"/>
<rect x="1429" y="336" width="1" height="26" fill="#089981"/>
<rect x="1427" y="339" width="5" height="23" fill="#089981"/>
<rect x="1437" y="334" width="1" height="41" fill="#f23645"/>
<rect x="1435" y="339" width="5" height="18" fill="#f23645"/>
<rect x="1446" y="319" width="1" height="38" fill="#089981"/>
<rect x="1444" y="331" width="5" height="26" fill="#089981"/>
<rect x="1454" y="325" width="1" height="14" fill="#089981"/>
<rect x="1452" y="326" width="5" height="6" fill="#089981"/>
<rect x="1462" y="315" width="1" height="31" fill="#f23645"/>
<rect x="1460" y="320" width="5" height="5" fill="#f23645"/>
<rect x="1471" y="302" width="1" height="24" fill="#089981"/>
<rect x="1469" y="322" width="5" height="3" fill="#089981"/>
<rect x="1479" y="300" width="1" height="30" fill="#f23645"/>
<rect x="1477" y="322" width="5" height="7" fill="#f23645"/>
<rect x="1487" y="305" width="1" height="27" fill="#089981"/>
<rect x="1485" y="308" width="5" height="21" fill="#089981"/>
<rect x="1496" y="285" width="1" height="27" fill="#089981"/>
<rect x="1494" y="287" width="5" height="21" fill="#089981"/>
<rect x="1504" y="280" width="1" height="19" fill="#089981"/>
<rect x="1502" y="282" width="5" height="5" fill="#089981"/>
<rect x="1512" y="277" width="1" height="37" fill="#f23645"/>
<rect x="1510" y="279" width="5" height="32" fill="#f23645"/>
<rect x="1521" y="296" width="1" height="35" fill="#f23645"/>
<rect x="1519" y="310" width="5" height="11" fill="#f23645"/>
<rect x="1529" y="301" width="1" height="31" fill="#089981"/>
<rect x="1527" y="311" width="5" height="11" fill="#089981"/>
<rect x="1537" y="308" width="1" height="38" fill="#f23645"/>
<rect x="1535" y="312" width="5" height="11" fill="#f23645"/>
<rect x="1546" y="307" width="1" height="43" fill="#f23645"/>
<rect x="1544" y="322" width="5" height="2" fill="#f23645"/>
<rect x="1554" y="314" width="1" height="15" fill="#089981"/>
<rect x="1552" y="318" width="5" height="6" fill="#089981"/>
<rect x="1562" y="309" width="1" height="24" fill="#f23645"/>
<rect x="1560" y="313" width="5" height="13" fill="#f23645"/>
<rect x="1571" y="325" width="1" height="33" fill="#f23645"/>
<rect x="1569" y="326" width="5" height="23" fill="#f23645"/>
<rect x="1579" y="335" width="1" height="21" fill="#089981"/>
<rect x="1577" y="341" width="5" height="8" fill="#089981"/>
<rect x="1587" y="338" width="1" height="26" fill="#f23645"/>
<rect x="1585" y="341" width="5" height="9" fill="#f23645"/>
<rect x="1596" y="310" width="1" height="44" fill="#089981"/>
<rect x="1594" y="312" width="5" height="38" fill="#089981"/>
<rect x="1604" y="297" width="1" height="33" fill="#089981"/>
<rect x="1602" y="299" width="5" height="14" fill="#089981"/>
<rect x="1612" y="297" width="1" height="25" fill="#f23645"/>
<rect x="1610" y="299" width="5" height="8" fill="#f23645"/>
<rect x="1621" y="299" width="1" height="18" fill="#f23645"/>
<rect x="1619" y="306" width="5" height="2" fill="#f23645"/>
<rect x="1629" y="299" width="1" height="12" fill="#089981"/>
<rect x="1627" y="305" width="5" height="4" fill="#089981"/>
<rect x="1637" y="285" width="1" height="31" fill="#089981"/>
<rect x="1635" y="294" width="5" height="12" fill="#089981"/>
<rect x="1646" y="261" width="1" height="36" fill="#089981"/>
<rect x="1644" y="292" width="5" height="3" fill="#089981"/>
<rect x="1654" y="266" width="1" height="27" fill="#089981"/>
<rect x="1652" y="268" width="5" height="25" fill="#089981"/>
<rect x="1662" y="180" width="1" height="77" fill="#089981"/>
<rect x="1660" y="210" width="5" height="47" fill="#089981"/>
<rect x="1671" y="196" width="1" height="22" fill="#089981"/>
<rect x="1669" y="200" width="5" height="11" fill="#089981"/>
<rect x="1679" y="183" width="1" height="28" fill="#089981"/>
<rect x="1677" y="192" width="5" height="8" fill="#089981"/>
<rect x="1687" y="172" width="1" height="30" fill="#089981"/>
<rect x="1685" y="173" width="5" height="19" fill="#089981"/>
</g>
</g>
<g clip-path="url(#cc)">
<rect x="10" y="744" width="1743" height="41.5" fill="#2196f3" fill-opacity="0.1"/>
<line x1="10" y1="744.5" x2="1753" y2="744.5" stroke="#686b74" stroke-width="1" stroke-dasharray="5 6"/>
<line x1="10" y1="764.5" x2="1753" y2="764.5" stroke="#a3a6ad" stroke-width="1" stroke-dasharray="5 6"/>
<line x1="10" y1="785.5" x2="1753" y2="785.5" stroke="#686b74" stroke-width="1" stroke-dasharray="5 6"/>
<polyline points="10,793 12.1,795.6 20.5,764.7 28.8,733.8 37.1,740.1 45.5,728.9 53.8,717.7 62.2,733.2 70.5,722.6 78.8,789.6 87.2,749.9 95.5,769.8 103.8,789.6 112.2,742.8 120.5,737.6 128.8,743.3 137.2,781.2 145.5,747.4 153.9,771.9 162.2,785.3 170.5,791.5 178.9,745.3 187.2,771.4 195.5,754.4 203.9,751.2 212.2,721.3 220.6,776.8 228.9,789.9 237.2,744.1 245.6,727.3 253.9,763.8 262.2,729.8 270.6,781.2 278.9,740.4 287.3,763.6 295.6,786.6 303.9,758.5 312.3,785 320.6,758.5 328.9,798.1 337.3,747.4 345.6,788.3 353.9,752.6 362.3,746.9 370.6,779.6 379,785 387.3,731.4 395.6,784.5 404,782.9 412.3,751.8 420.6,791.2 429,747.4 437.3,771.4 445.7,742.5 454,774.4 462.3,780.4 470.7,739.2 479,742.5 487.3,733.2 495.7,787.1 504,796.5 512.4,762.1 520.7,741.7 529,780.9 537.4,783.9 545.7,790.7 554,792.7 562.4,751.5 570.7,786.3 579,738.7 587.4,765.4 595.7,752.3 604.1,743.6 612.4,736.3 620.7,768.7 629.1,798.1 637.4,753.6 645.7,771.4 654.1,731.9 662.4,734.8 670.8,792.7 679.1,752.3 687.4,751.8 695.8,722.4 704.1,737.3 712.4,776.3 720.8,748.2 729.1,728.9 737.4,726.2 745.8,793.5 754.1,761.3 762.5,738.7 770.8,731.4 779.1,767 787.5,785 795.8,801.7 804.1,762.9 812.5,754.4 820.8,796.9 829.2,790.7 837.5,736.3 845.8,776.3 854.2,775.2 862.5,732.4 870.8,736.8 879.2,785 887.5,738.1 895.9,748.2 904.2,774.4 912.5,782.9 920.9,755.6 929.2,785.3 937.5,745.3 945.9,771.9 954.2,774.4 962.5,794 970.9,754.8 979.2,746.9 987.6,772.4 995.9,732.4 1004.2,780.6 1012.6,730.2 1020.9,731.9 1029.2,729.9 1037.6,725.7 1045.9,723.7 1054.3,728.1 1062.6,714.2 1070.9,779.6 1079.3,754.3 1087.6,766.2 1095.9,780.1 1104.3,740.1 1112.6,724.5 1121,787.5 1129.3,753.1 1137.6,779.3 1146,787.5 1154.3,785.5 1162.6,732.7 1171,738.4 1179.3,737.6 1187.6,726.2 1196,776.3 1204.3,743.3 1212.7,795.3 1221,755.6 1229.3,797.3 1237.7,805.4 1246,810.7 1254.3,765.4 1262.7,743 1271,740.1 1279.4,782.2 1287.7,748.2 1296,788.3 1304.4,799.2 1312.7,741.7 1321,795.3 1329.4,743.6 1337.7,741.2 1346.1,788.3 1354.4,763.8 1362.7,737.9 1371.1,727.5 1379.4,737.6 1387.7,787.5 1396.1,801.7 1404.4,758.9 1412.7,729.4 1421.1,736.3 1429.4,727.3 1437.8,782.6 1446.1,742 1454.4,746.9 1462.8,746.3 1471.1,743 1479.4,779.6 1487.8,742.8 1496.1,735.5 1504.5,738.9 1512.8,791.5 1521.1,793.7 1529.5,754.4 1537.8,784.2 1546.1,781.7 1554.5,756.4 1562.8,784.2 1571.1,798.1 1579.5,757.5 1587.8,785.8 1596.2,733.5 1604.5,734.8 1612.8,775.5 1621.2,772.4 1629.5,749.9 1637.8,735.6 1646.2,741.4 1654.5,721.7 1662.9,714.4 1671.2,725.3 1679.5,726.2 1687.9,719.9" fill="none" stroke="#2962ff" stroke-width="1.05" stroke-linejoin="round"/>
</g>
<text x="10.1" y="19.3" font-size="12" fill="#131722" font-weight="normal" text-anchor="start" textLength="66.7" lengthAdjust="spacingAndGlyphs" stroke="#131722" stroke-width="0.18">busra_kapan</text>
<text x="81.7" y="19.3" font-size="12" fill="#131722" font-weight="normal" text-anchor="start" textLength="54.8" lengthAdjust="spacingAndGlyphs" stroke="#131722" stroke-width="0.18">tarafından</text>
<text x="141.4" y="19.3" font-size="12" fill="#131722" font-weight="normal" text-anchor="start" textLength="88.3" lengthAdjust="spacingAndGlyphs" stroke="#131722" stroke-width="0.18">TradingView.com</text>
<text x="234.9" y="19.3" font-size="12" fill="#131722" font-weight="normal" text-anchor="start" textLength="12" lengthAdjust="spacingAndGlyphs" stroke="#131722" stroke-width="0.18">ile</text>
<text x="251.8" y="19.3" font-size="12" fill="#131722" font-weight="normal" text-anchor="start" textLength="19.7" lengthAdjust="spacingAndGlyphs" stroke="#131722" stroke-width="0.18">Oca</text>
<text x="276.7" y="19.3" font-size="12" fill="#131722" font-weight="normal" text-anchor="start" textLength="13.6" lengthAdjust="spacingAndGlyphs" stroke="#131722" stroke-width="0.18">12,</text>
<text x="296.4" y="19.3" font-size="12" fill="#131722" font-weight="normal" text-anchor="start" textLength="23.9" lengthAdjust="spacingAndGlyphs" stroke="#131722" stroke-width="0.18">2026</text>
<text x="326.4" y="19.3" font-size="12" fill="#131722" font-weight="normal" text-anchor="start" textLength="27.9" lengthAdjust="spacingAndGlyphs" stroke="#131722" stroke-width="0.18">15:17</text>
<text x="358.7" y="19.3" font-size="12" fill="#131722" font-weight="normal" text-anchor="start" textLength="34" lengthAdjust="spacingAndGlyphs" stroke="#131722" stroke-width="0.18">UTC+2</text>
<text x="397.1" y="19.3" font-size="12" fill="#131722" font-weight="normal" text-anchor="start" textLength="47.9" lengthAdjust="spacingAndGlyphs" stroke="#131722" stroke-width="0.18">tarihinde</text>
<text x="449.4" y="19.3" font-size="12" fill="#131722" font-weight="normal" text-anchor="start" textLength="60.2" lengthAdjust="spacingAndGlyphs" stroke="#131722" stroke-width="0.18">oluşturuldu</text>
<text x="17.8" y="46.3" font-size="12" fill="#131722" font-weight="normal" text-anchor="start" textLength="115.4" lengthAdjust="spacingAndGlyphs" stroke="#131722" stroke-width="0.18">Spot Altın/ABD Doları</text>
<text x="138.7" y="46.9" font-size="15" fill="#131722" font-weight="bold" text-anchor="middle" stroke="#131722" stroke-width="0.18">·</text>
<text x="145.5" y="46.3" font-size="12" fill="#131722" font-weight="normal" text-anchor="start" textLength="16.4" lengthAdjust="spacingAndGlyphs" stroke="#131722" stroke-width="0.18">4sa</text>
<text x="168.5" y="46.9" font-size="15" fill="#131722" font-weight="bold" text-anchor="middle" stroke="#131722" stroke-width="0.18">·</text>
<text x="174.4" y="46.3" font-size="12" fill="#131722" font-weight="normal" text-anchor="start" textLength="36.6" lengthAdjust="spacingAndGlyphs" stroke="#131722" stroke-width="0.18">OANDA</text>
<text x="219" y="46.3" font-size="12" fill="#131722" font-weight="normal" text-anchor="start" textLength="6.7" lengthAdjust="spacingAndGlyphs" stroke="#131722" stroke-width="0.18">A</text>
<text x="225.7" y="46.3" font-size="12" fill="#089981" font-weight="normal" text-anchor="start" textLength="52.7" lengthAdjust="spacingAndGlyphs" stroke="#089981" stroke-width="0.18">4.589,220</text>
<text x="286" y="46.3" font-size="12" fill="#131722" font-weight="normal" text-anchor="start" textLength="7" lengthAdjust="spacingAndGlyphs" stroke="#131722" stroke-width="0.18">Y</text>
<text x="293" y="46.3" font-size="12" fill="#089981" font-weight="normal" text-anchor="start" textLength="52.3" lengthAdjust="spacingAndGlyphs" stroke="#089981" stroke-width="0.18">4.610,770</text>
<text x="353" y="46.3" font-size="12" fill="#131722" font-weight="normal" text-anchor="start" textLength="7.2" lengthAdjust="spacingAndGlyphs" stroke="#131722" stroke-width="0.18">D</text>
<text x="360.2" y="46.3" font-size="12" fill="#089981" font-weight="normal" text-anchor="start" textLength="52" lengthAdjust="spacingAndGlyphs" stroke="#089981" stroke-width="0.18">4.578,485</text>
<text x="420.3" y="46.3" font-size="12" fill="#131722" font-weight="normal" text-anchor="start" textLength="6.7" lengthAdjust="spacingAndGlyphs" stroke="#131722" stroke-width="0.18">K</text>
<text x="427" y="46.3" font-size="12" fill="#089981" font-weight="normal" text-anchor="start" textLength="52.7" lengthAdjust="spacingAndGlyphs" stroke="#089981" stroke-width="0.18">4.609,730</text>
<text x="487.5" y="46.3" font-size="12" fill="#089981" font-weight="normal" text-anchor="start" textLength="91" lengthAdjust="spacingAndGlyphs" stroke="#089981" stroke-width="0.18">+20,505 (+0,45%)</text>
<text x="17.6" y="63.2" font-size="12" fill="#131722" font-weight="normal" text-anchor="start" textLength="128.7" lengthAdjust="spacingAndGlyphs" stroke="#131722" stroke-width="0.18">Ichimoku (9, 26, 52, 26)</text>
<text x="154" y="63.2" font-size="12" fill="#2962ff" font-weight="normal" text-anchor="start" textLength="52" lengthAdjust="spacingAndGlyphs" stroke="#2962ff" stroke-width="0.18">4.534,533</text>
<text x="214.2" y="63.2" font-size="12" fill="#b71c1c" font-weight="normal" text-anchor="start" textLength="52.3" lengthAdjust="spacingAndGlyphs" stroke="#b71c1c" stroke-width="0.18">4.509,303</text>
<text x="274.3" y="63.2" font-size="12" fill="#43a047" font-weight="normal" text-anchor="start" textLength="52.7" lengthAdjust="spacingAndGlyphs" stroke="#43a047" stroke-width="0.18">4.609,730</text>
<text x="334.5" y="63.2" font-size="12" fill="#a5d6a7" font-weight="normal" text-anchor="start" textLength="52.3" lengthAdjust="spacingAndGlyphs" stroke="#a5d6a7" stroke-width="0.18">4.521,918</text>
<text x="394.6" y="63.2" font-size="12" fill="#ef9a9a" font-weight="normal" text-anchor="start" textLength="52.4" lengthAdjust="spacingAndGlyphs" stroke="#ef9a9a" stroke-width="0.18">4.442,398</text>
<text x="18" y="720.9" font-size="12" fill="#131722" font-weight="normal" text-anchor="start" textLength="83" lengthAdjust="spacingAndGlyphs" stroke="#131722" stroke-width="0.18">CRSI (3, 2, 100)</text>
<text x="108.7" y="720.9" font-size="12" fill="#2962ff" font-weight="normal" text-anchor="start" textLength="29.1" lengthAdjust="spacingAndGlyphs" stroke="#2962ff" stroke-width="0.18">92,57</text>
<g clip-path="url(#ca)">
<defs><clipPath id="ca"><rect x="1753" y="27.5" width="72" height="821"/></clipPath></defs>
<text x="1762" y="33.2" font-size="12" fill="#131722" font-weight="normal" text-anchor="start" textLength="53" lengthAdjust="spacingAndGlyphs" stroke="#131722" stroke-width="0.18">4.760,000</text>
<text x="1762" y="71.3" font-size="12" fill="#131722" font-weight="normal" text-anchor="start" textLength="53" lengthAdjust="spacingAndGlyphs" stroke="#131722" stroke-width="0.18">4.720,000</text>
<text x="1762" y="109.4" font-size="12" fill="#131722" font-weight="normal" text-anchor="start" textLength="53" lengthAdjust="spacingAndGlyphs" stroke="#131722" stroke-width="0.18">4.680,000</text>
<text x="1762" y="223.8" font-size="12" fill="#131722" font-weight="normal" text-anchor="start" textLength="53" lengthAdjust="spacingAndGlyphs" stroke="#131722" stroke-width="0.18">4.560,000</text>
<text x="1762" y="376.3" font-size="12" fill="#131722" font-weight="normal" text-anchor="start" textLength="53" lengthAdjust="spacingAndGlyphs" stroke="#131722" stroke-width="0.18">4.400,000</text>
<text x="1762" y="414.4" font-size="12" fill="#131722" font-weight="normal" text-anchor="start" textLength="53" lengthAdjust="spacingAndGlyphs" stroke="#131722" stroke-width="0.18">4.360,000</text>
<text x="1762" y="452.5" font-size="12" fill="#131722" font-weight="normal" text-anchor="start" textLength="53" lengthAdjust="spacingAndGlyphs" stroke="#131722" stroke-width="0.18">4.320,000</text>
<text x="1762" y="490.7" font-size="12" fill="#131722" font-weight="normal" text-anchor="start" textLength="53" lengthAdjust="spacingAndGlyphs" stroke="#131722" stroke-width="0.18">4.280,000</text>
<text x="1762" y="528.8" font-size="12" fill="#131722" font-weight="normal" text-anchor="start" textLength="53" lengthAdjust="spacingAndGlyphs" stroke="#131722" stroke-width="0.18">4.240,000</text>
<text x="1762" y="566.9" font-size="12" fill="#131722" font-weight="normal" text-anchor="start" textLength="53" lengthAdjust="spacingAndGlyphs" stroke="#131722" stroke-width="0.18">4.200,000</text>
<text x="1762" y="605" font-size="12" fill="#131722" font-weight="normal" text-anchor="start" textLength="53" lengthAdjust="spacingAndGlyphs" stroke="#131722" stroke-width="0.18">4.160,000</text>
<text x="1762" y="643.2" font-size="12" fill="#131722" font-weight="normal" text-anchor="start" textLength="53" lengthAdjust="spacingAndGlyphs" stroke="#131722" stroke-width="0.18">4.120,000</text>
<text x="1762" y="681.3" font-size="12" fill="#131722" font-weight="normal" text-anchor="start" textLength="53" lengthAdjust="spacingAndGlyphs" stroke="#131722" stroke-width="0.18">4.080,000</text>
<text x="1762" y="737" font-size="12" fill="#131722" font-weight="normal" text-anchor="start" textLength="29" lengthAdjust="spacingAndGlyphs" stroke="#131722" stroke-width="0.18">80,00</text>
<text x="1762" y="778.4" font-size="12" fill="#131722" font-weight="normal" text-anchor="start" textLength="29" lengthAdjust="spacingAndGlyphs" stroke="#131722" stroke-width="0.18">40,00</text>
<text x="1762" y="819.8" font-size="12" fill="#131722" font-weight="normal" text-anchor="start" textLength="23" lengthAdjust="spacingAndGlyphs" stroke="#131722" stroke-width="0.18">0,00</text>
</g>
<path d="M1754,131 H1818 Q1820,131 1820,133 V146 Q1820,148 1818,148 H1754 Z" fill="#000"/>
<text x="1762" y="142.8" font-size="12" fill="#fff" font-weight="normal" text-anchor="start" textLength="53" lengthAdjust="spacingAndGlyphs" stroke="#fff" stroke-width="0.45">4.610,518</text>
<path d="M1754,148 H1818 Q1820,148 1820,150 V163 Q1820,165 1818,165 H1754 Z" fill="#43a047"/>
<text x="1762" y="159.8" font-size="12" fill="#fff" font-weight="normal" text-anchor="start" textLength="53" lengthAdjust="spacingAndGlyphs" stroke="#fff" stroke-width="0.45">4.609,730</text>
<path d="M1754,165 H1818 Q1820,165 1820,167 V194 Q1820,196 1818,196 H1754 Z" fill="#089981"/>
<text x="1762" y="176.6" font-size="12" fill="#fff" font-weight="normal" text-anchor="start" textLength="53" lengthAdjust="spacingAndGlyphs" stroke="#fff" stroke-width="0.45">4.609,730</text>
<text x="1762" y="190.6" font-size="12" fill="#b5e0d9" font-weight="normal" text-anchor="start" textLength="29.2" lengthAdjust="spacingAndGlyphs" stroke="#b5e0d9" stroke-width="0.3">42:39</text>
<path d="M1754,236 H1818 Q1820,236 1820,238 V251 Q1820,253 1818,253 H1754 Z" fill="#2962ff"/>
<text x="1762" y="247.8" font-size="12" fill="#fff" font-weight="normal" text-anchor="start" textLength="53" lengthAdjust="spacingAndGlyphs" stroke="#fff" stroke-width="0.45">4.534,533</text>
<path d="M1754,253 H1818 Q1820,253 1820,255 V268 Q1820,270 1818,270 H1754 Z" fill="#a5d6a7"/>
<text x="1762" y="264.8" font-size="12" fill="#131722" font-weight="normal" text-anchor="start" textLength="53" lengthAdjust="spacingAndGlyphs" stroke="#131722" stroke-width="0.25">4.521,918</text>
<path d="M1754,270 H1818 Q1820,270 1820,272 V285 Q1820,287 1818,287 H1754 Z" fill="#b71c1c"/>
<text x="1762" y="281.8" font-size="12" fill="#fff" font-weight="normal" text-anchor="start" textLength="53" lengthAdjust="spacingAndGlyphs" stroke="#fff" stroke-width="0.45">4.509,303</text>
<path d="M1754,291 H1818 Q1820,291 1820,293 V306 Q1820,308 1818,308 H1754 Z" fill="#000"/>
<text x="1762" y="302.8" font-size="12" fill="#fff" font-weight="normal" text-anchor="start" textLength="53" lengthAdjust="spacingAndGlyphs" stroke="#fff" stroke-width="0.45">4.477,250</text>
<path d="M1754,324 H1818 Q1820,324 1820,326 V339 Q1820,341 1818,341 H1754 Z" fill="#ef9a9a"/>
<text x="1762" y="335.8" font-size="12" fill="#131722" font-weight="normal" text-anchor="start" textLength="53" lengthAdjust="spacingAndGlyphs" stroke="#131722" stroke-width="0.25">4.442,398</text>
<path d="M1754,712 H1795 Q1797,712 1797,714 V727 Q1797,729 1795,729 H1754 Z" fill="#2962ff"/>
<text x="1762" y="723.8" font-size="12" fill="#fff" font-weight="normal" text-anchor="start" textLength="29" lengthAdjust="spacingAndGlyphs" stroke="#fff" stroke-width="0.45">92,57</text>
<text x="62.2" y="839" font-size="12" fill="#131722" font-weight="normal" text-anchor="middle" textLength="13" lengthAdjust="spacingAndGlyphs" stroke="#131722" stroke-width="0.18">25</text>
<text x="162.2" y="839" font-size="12" fill="#131722" font-weight="normal" text-anchor="middle" textLength="13" lengthAdjust="spacingAndGlyphs" stroke="#131722" stroke-width="0.18">27</text>
<text x="262.2" y="839" font-size="12" fill="#131722" font-weight="normal" text-anchor="middle" textLength="17.5" lengthAdjust="spacingAndGlyphs" stroke="#131722" stroke-width="0.18">Ara</text>
<text x="362.3" y="839" font-size="12" fill="#131722" font-weight="normal" text-anchor="middle" textLength="6.5" lengthAdjust="spacingAndGlyphs" stroke="#131722" stroke-width="0.18">3</text>
<text x="462.3" y="839" font-size="12" fill="#131722" font-weight="normal" text-anchor="middle" textLength="6.5" lengthAdjust="spacingAndGlyphs" stroke="#131722" stroke-width="0.18">5</text>
<text x="562.4" y="839" font-size="12" fill="#131722" font-weight="normal" text-anchor="middle" textLength="6.5" lengthAdjust="spacingAndGlyphs" stroke="#131722" stroke-width="0.18">9</text>
<text x="662.4" y="839" font-size="12" fill="#131722" font-weight="normal" text-anchor="middle" textLength="13" lengthAdjust="spacingAndGlyphs" stroke="#131722" stroke-width="0.18">11</text>
<text x="762.5" y="839" font-size="12" fill="#131722" font-weight="normal" text-anchor="middle" textLength="13" lengthAdjust="spacingAndGlyphs" stroke="#131722" stroke-width="0.18">15</text>
<text x="862.5" y="839" font-size="12" fill="#131722" font-weight="normal" text-anchor="middle" textLength="13" lengthAdjust="spacingAndGlyphs" stroke="#131722" stroke-width="0.18">17</text>
<text x="962.5" y="839" font-size="12" fill="#131722" font-weight="normal" text-anchor="middle" textLength="13" lengthAdjust="spacingAndGlyphs" stroke="#131722" stroke-width="0.18">19</text>
<text x="1062.6" y="839" font-size="12" fill="#131722" font-weight="normal" text-anchor="middle" textLength="13" lengthAdjust="spacingAndGlyphs" stroke="#131722" stroke-width="0.18">23</text>
<text x="1162.6" y="839" font-size="12" fill="#131722" font-weight="normal" text-anchor="middle" textLength="13" lengthAdjust="spacingAndGlyphs" stroke="#131722" stroke-width="0.18">26</text>
<text x="1262.7" y="839" font-size="12" fill="#131722" font-weight="normal" text-anchor="middle" textLength="13" lengthAdjust="spacingAndGlyphs" stroke="#131722" stroke-width="0.18">30</text>
<text x="1362.7" y="839" font-size="12" fill="#131722" font-weight="bold" text-anchor="middle" textLength="27.5" lengthAdjust="spacingAndGlyphs" stroke="#131722" stroke-width="0.18">2026</text>
<text x="1462.8" y="839" font-size="12" fill="#131722" font-weight="normal" text-anchor="middle" textLength="6.5" lengthAdjust="spacingAndGlyphs" stroke="#131722" stroke-width="0.18">6</text>
<text x="1562.8" y="839" font-size="12" fill="#131722" font-weight="normal" text-anchor="middle" textLength="6.5" lengthAdjust="spacingAndGlyphs" stroke="#131722" stroke-width="0.18">8</text>
<text x="1662.9" y="839" font-size="12" fill="#131722" font-weight="normal" text-anchor="middle" textLength="13" lengthAdjust="spacingAndGlyphs" stroke="#131722" stroke-width="0.18">12</text>
<g fill="none" stroke="#9c27b0" stroke-width="1.3"><path d="M1690.6,679.2 A9.7,9.7 0 1 0 1696.8,685.6"/></g>
<path d="M1690.1,683.2 L1683.3,689.1 L1686.9,688.8 L1684.3,693.9 L1691.7,687.8 L1687.8,688.2 Z" fill="#9c27b0" stroke="#9c27b0" stroke-width="0.35" stroke-linejoin="round"/>
<circle cx="1694.5" cy="681.6" r="2.5" fill="#f23645"/>
<defs><clipPath id="fl"><circle cx="1737.1" cy="688.2" r="8.4"/></clipPath></defs>
<circle cx="1737.1" cy="688.2" r="10.2" fill="#fff" stroke="#f23645" stroke-width="1.3"/>
<g clip-path="url(#fl)"><rect x="1728" y="679" width="19" height="18" fill="#fff"/><rect x="1728" y="680.4" width="19" height="2.9" fill="#ef5350"/><rect x="1728" y="686.2" width="19" height="3.6" fill="#ef5350"/><rect x="1728" y="692.2" width="19" height="5" fill="#ef5350"/><rect x="1728" y="679" width="11.4" height="11" fill="#1e88e5"/><g stroke="#c5e1fa" stroke-width="0.9" stroke-dasharray="1.3 1.1"><line x1="1731.6" y1="682.4" x2="1738.8" y2="682.4"/><line x1="1730.4" y1="684.9" x2="1738.8" y2="684.9"/><line x1="1730.4" y1="687.6" x2="1738.8" y2="687.6"/></g></g>
<g fill="#0f0f0f"><path d="M12,871.3 H23.8 V885.8 H18 V876.8 H12 Z"/><circle cx="28.9" cy="874.1" r="2.75"/><path d="M33.3,871.3 H41.7 L36.4,885.8 H28.9 Z"/></g>
<text x="49" y="885.8" font-size="20" fill="#0f0f0f" font-weight="bold" text-anchor="start" textLength="120.5" lengthAdjust="spacingAndGlyphs" stroke="#0f0f0f" stroke-width="0.3">TradingView</text>
</svg>
</body></html>
